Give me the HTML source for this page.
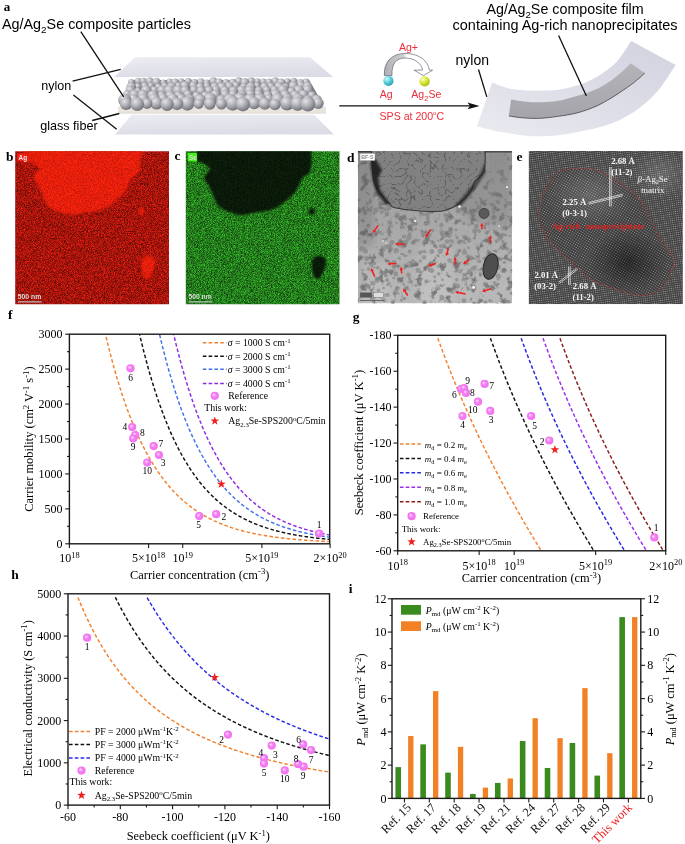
<!DOCTYPE html>
<html><head><meta charset="utf-8"><style>
html,body{margin:0;padding:0;background:#fff;overflow:hidden;}
svg{display:block;will-change:transform;}
</style></head><body>
<svg width="685" height="844" viewBox="0 0 685 844">
<rect width="685" height="844" fill="#fff"/>

<defs>
 <radialGradient id="sph" cx="0.5" cy="0.5" r="0.5" fx="0.36" fy="0.34">
  <stop offset="0" stop-color="#fcecfc"/>
  <stop offset="0.22" stop-color="#f8b4f8"/>
  <stop offset="0.5" stop-color="#f47ef4"/>
  <stop offset="1" stop-color="#f070f0"/>
 </radialGradient>
 <radialGradient id="gball" cx="0.35" cy="0.3" r="0.75">
  <stop offset="0" stop-color="#e4e4e8"/>
  <stop offset="0.5" stop-color="#acacb2"/>
  <stop offset="1" stop-color="#6c6c74"/>
 </radialGradient>
 <radialGradient id="cyb" cx="0.35" cy="0.3" r="0.75">
  <stop offset="0" stop-color="#d8fbff"/>
  <stop offset="0.5" stop-color="#5cd0dc"/>
  <stop offset="1" stop-color="#2a9cb0"/>
 </radialGradient>
 <radialGradient id="ylb" cx="0.35" cy="0.3" r="0.75">
  <stop offset="0" stop-color="#fbffd0"/>
  <stop offset="0.5" stop-color="#d8e830"/>
  <stop offset="1" stop-color="#a8b810"/>
 </radialGradient>
 <linearGradient id="plane" x1="0" y1="0" x2="0.3" y2="1">
  <stop offset="0" stop-color="#ececf2"/>
  <stop offset="1" stop-color="#dcdce6"/>
 </linearGradient>
 <linearGradient id="band" x1="0" y1="0" x2="1" y2="0">
  <stop offset="0" stop-color="#dedee6"/>
  <stop offset="1" stop-color="#d2d2e2"/>
 </linearGradient>
 <filter id="noiseR" x="0" y="0" width="1" height="1">
  <feTurbulence type="fractalNoise" baseFrequency="0.9" numOctaves="1" seed="4" result="t"/>
  <feColorMatrix in="t" type="matrix" values="0 0 0 0 0  0 0 0 0 0  0 0 0 0 0  0 0 0 -2.2 1.25" result="a"/>
  <feComposite in="a" in2="SourceGraphic" operator="in"/>
 </filter>
 <filter id="noiseG" x="0" y="0" width="1" height="1">
  <feTurbulence type="fractalNoise" baseFrequency="0.85" numOctaves="1" seed="9" result="t"/>
  <feColorMatrix in="t" type="matrix" values="0 0 0 0 0.55  0 0 0 0 1  0 0 0 0 0.4  0 0 0 -3 1.45"/>
 </filter>
 <filter id="blur1"><feGaussianBlur stdDeviation="0.8"/></filter>
 <filter id="blur05"><feGaussianBlur stdDeviation="0.5"/></filter>
 <filter id="blur2"><feGaussianBlur stdDeviation="1.6"/></filter>
 <filter id="blur3"><feGaussianBlur stdDeviation="3"/></filter>
 <clipPath id="clipF"><rect x="69.4" y="334" width="260.4" height="209.8"/></clipPath>
 <clipPath id="clipG"><rect x="397.7" y="335.3" width="268" height="215.5"/></clipPath>
 <clipPath id="clipH"><rect x="68" y="596.2" width="261.5" height="208.9"/></clipPath>
 <clipPath id="clipB"><rect x="15.2" y="151.3" width="153.8" height="152.9"/></clipPath>
 <clipPath id="clipC"><rect x="185.8" y="151.3" width="153.7" height="152.9"/></clipPath>
 <clipPath id="clipD"><rect x="357.9" y="151" width="154.2" height="152.4"/></clipPath>
 <clipPath id="clipE"><rect x="528.6" y="151" width="154.3" height="153.2"/></clipPath>
 <path id="starp" d="M0,-4.6 L1.08,-1.49 L4.37,-1.42 L1.75,0.57 L2.7,3.72 L0,1.84 L-2.7,3.72 L-1.75,0.57 L-4.37,-1.42 L-1.08,-1.49 Z"/>
</defs>

<text x="3.8" y="11.3" font-family="Liberation Serif" font-weight="bold" font-size="13">a</text>
<text x="2" y="28.9" font-family="Liberation Sans" font-size="14.2" textLength="189" lengthAdjust="spacingAndGlyphs">Ag/Ag<tspan font-size="9.8" dy="4.2">2</tspan><tspan dy="-4.2">Se composite particles</tspan></text>
<polygon points="135.1,57.2 310,57.2 333,77 114.1,77" fill="url(#plane)"/>
<polygon points="131.5,114.8 314,114.8 334,134.5 115,134.5" fill="url(#plane)"/>
<polygon points="118.2,106.5 326,106.5 326,113.2 118.2,113.2" fill="#e9e5de"/>
<line x1="118.2" y1="113.2" x2="326" y2="113.2" stroke="#d6d0c6" stroke-width="0.6"/>
<polygon points="131,80 309,80 323,104 120,104" fill="#7c7c84"/>
<circle cx="293.8" cy="81.2" r="3.35" fill="url(#gball)"/>
<circle cx="251.2" cy="81.2" r="3.95" fill="url(#gball)"/>
<circle cx="138.1" cy="81.3" r="3.50" fill="url(#gball)"/>
<circle cx="257.4" cy="81.3" r="3.13" fill="url(#gball)"/>
<circle cx="181.3" cy="81.3" r="3.05" fill="url(#gball)"/>
<circle cx="238.7" cy="81.3" r="3.94" fill="url(#gball)"/>
<circle cx="143.4" cy="81.3" r="3.60" fill="url(#gball)"/>
<circle cx="149.7" cy="81.4" r="4.18" fill="url(#gball)"/>
<circle cx="213.3" cy="81.4" r="4.08" fill="url(#gball)"/>
<circle cx="287.4" cy="81.6" r="3.30" fill="url(#gball)"/>
<circle cx="275.3" cy="81.6" r="4.24" fill="url(#gball)"/>
<circle cx="169.6" cy="81.7" r="3.13" fill="url(#gball)"/>
<circle cx="188.3" cy="81.7" r="3.59" fill="url(#gball)"/>
<circle cx="263.3" cy="81.8" r="3.33" fill="url(#gball)"/>
<circle cx="200.8" cy="82.0" r="3.81" fill="url(#gball)"/>
<circle cx="269.0" cy="82.1" r="3.62" fill="url(#gball)"/>
<circle cx="156.4" cy="82.1" r="4.36" fill="url(#gball)"/>
<circle cx="175.1" cy="82.2" r="3.82" fill="url(#gball)"/>
<circle cx="131.3" cy="82.2" r="3.18" fill="url(#gball)"/>
<circle cx="305.9" cy="82.3" r="3.87" fill="url(#gball)"/>
<circle cx="225.9" cy="82.3" r="3.42" fill="url(#gball)"/>
<circle cx="219.0" cy="82.4" r="3.95" fill="url(#gball)"/>
<circle cx="194.6" cy="82.5" r="3.40" fill="url(#gball)"/>
<circle cx="244.8" cy="82.5" r="4.43" fill="url(#gball)"/>
<circle cx="232.7" cy="82.5" r="3.64" fill="url(#gball)"/>
<circle cx="163.3" cy="82.6" r="3.03" fill="url(#gball)"/>
<circle cx="300.2" cy="82.7" r="3.80" fill="url(#gball)"/>
<circle cx="281.2" cy="82.7" r="4.27" fill="url(#gball)"/>
<circle cx="206.7" cy="82.8" r="3.39" fill="url(#gball)"/>
<circle cx="236.0" cy="85.6" r="3.96" fill="url(#gball)"/>
<circle cx="178.4" cy="85.8" r="3.50" fill="url(#gball)"/>
<circle cx="193.3" cy="85.8" r="4.25" fill="url(#gball)"/>
<circle cx="150.8" cy="85.8" r="3.36" fill="url(#gball)"/>
<circle cx="184.9" cy="85.9" r="4.75" fill="url(#gball)"/>
<circle cx="144.6" cy="85.9" r="3.71" fill="url(#gball)"/>
<circle cx="301.0" cy="85.9" r="4.58" fill="url(#gball)"/>
<circle cx="257.0" cy="86.0" r="3.73" fill="url(#gball)"/>
<circle cx="164.7" cy="86.2" r="3.78" fill="url(#gball)"/>
<circle cx="206.9" cy="86.2" r="3.80" fill="url(#gball)"/>
<circle cx="293.3" cy="86.2" r="4.99" fill="url(#gball)"/>
<circle cx="137.8" cy="86.6" r="3.53" fill="url(#gball)"/>
<circle cx="243.7" cy="86.7" r="3.80" fill="url(#gball)"/>
<circle cx="229.0" cy="86.8" r="4.73" fill="url(#gball)"/>
<circle cx="214.6" cy="86.8" r="4.25" fill="url(#gball)"/>
<circle cx="278.9" cy="86.9" r="4.89" fill="url(#gball)"/>
<circle cx="285.6" cy="86.9" r="3.66" fill="url(#gball)"/>
<circle cx="131.2" cy="86.9" r="4.83" fill="url(#gball)"/>
<circle cx="270.8" cy="86.9" r="4.46" fill="url(#gball)"/>
<circle cx="307.6" cy="86.9" r="4.88" fill="url(#gball)"/>
<circle cx="158.3" cy="87.0" r="3.40" fill="url(#gball)"/>
<circle cx="264.4" cy="87.0" r="4.41" fill="url(#gball)"/>
<circle cx="200.1" cy="87.2" r="4.25" fill="url(#gball)"/>
<circle cx="221.9" cy="87.2" r="4.72" fill="url(#gball)"/>
<circle cx="250.8" cy="87.2" r="4.93" fill="url(#gball)"/>
<circle cx="171.4" cy="87.2" r="4.79" fill="url(#gball)"/>
<circle cx="193.9" cy="90.0" r="4.10" fill="url(#gball)"/>
<circle cx="274.3" cy="90.1" r="4.21" fill="url(#gball)"/>
<circle cx="266.8" cy="90.2" r="4.02" fill="url(#gball)"/>
<circle cx="282.9" cy="90.2" r="5.45" fill="url(#gball)"/>
<circle cx="307.4" cy="90.3" r="5.32" fill="url(#gball)"/>
<circle cx="215.8" cy="90.4" r="4.81" fill="url(#gball)"/>
<circle cx="154.2" cy="90.4" r="4.16" fill="url(#gball)"/>
<circle cx="161.9" cy="90.4" r="4.86" fill="url(#gball)"/>
<circle cx="130.4" cy="90.6" r="5.00" fill="url(#gball)"/>
<circle cx="169.4" cy="90.6" r="5.47" fill="url(#gball)"/>
<circle cx="298.6" cy="90.6" r="5.55" fill="url(#gball)"/>
<circle cx="178.0" cy="90.7" r="5.46" fill="url(#gball)"/>
<circle cx="146.2" cy="90.7" r="5.52" fill="url(#gball)"/>
<circle cx="241.5" cy="90.7" r="5.06" fill="url(#gball)"/>
<circle cx="185.1" cy="90.8" r="4.76" fill="url(#gball)"/>
<circle cx="209.0" cy="90.9" r="4.73" fill="url(#gball)"/>
<circle cx="258.7" cy="90.9" r="4.25" fill="url(#gball)"/>
<circle cx="224.8" cy="90.9" r="4.71" fill="url(#gball)"/>
<circle cx="233.4" cy="91.0" r="4.59" fill="url(#gball)"/>
<circle cx="249.8" cy="91.1" r="5.53" fill="url(#gball)"/>
<circle cx="201.1" cy="91.2" r="4.65" fill="url(#gball)"/>
<circle cx="291.5" cy="91.4" r="4.03" fill="url(#gball)"/>
<circle cx="137.9" cy="91.6" r="3.79" fill="url(#gball)"/>
<circle cx="258.5" cy="94.4" r="4.68" fill="url(#gball)"/>
<circle cx="187.8" cy="94.5" r="4.35" fill="url(#gball)"/>
<circle cx="225.2" cy="94.6" r="4.72" fill="url(#gball)"/>
<circle cx="233.1" cy="94.7" r="4.39" fill="url(#gball)"/>
<circle cx="250.2" cy="94.7" r="5.20" fill="url(#gball)"/>
<circle cx="242.1" cy="94.9" r="4.81" fill="url(#gball)"/>
<circle cx="127.2" cy="94.9" r="4.57" fill="url(#gball)"/>
<circle cx="215.5" cy="94.9" r="5.10" fill="url(#gball)"/>
<circle cx="303.5" cy="95.0" r="5.00" fill="url(#gball)"/>
<circle cx="275.4" cy="95.1" r="5.86" fill="url(#gball)"/>
<circle cx="134.4" cy="95.1" r="5.31" fill="url(#gball)"/>
<circle cx="267.7" cy="95.2" r="4.55" fill="url(#gball)"/>
<circle cx="285.1" cy="95.2" r="4.98" fill="url(#gball)"/>
<circle cx="143.0" cy="95.2" r="5.46" fill="url(#gball)"/>
<circle cx="311.9" cy="95.6" r="4.31" fill="url(#gball)"/>
<circle cx="161.5" cy="95.6" r="4.24" fill="url(#gball)"/>
<circle cx="295.0" cy="95.7" r="4.87" fill="url(#gball)"/>
<circle cx="205.4" cy="95.8" r="4.33" fill="url(#gball)"/>
<circle cx="170.2" cy="95.9" r="5.04" fill="url(#gball)"/>
<circle cx="178.4" cy="95.9" r="4.47" fill="url(#gball)"/>
<circle cx="196.5" cy="95.9" r="4.31" fill="url(#gball)"/>
<circle cx="152.9" cy="96.0" r="5.80" fill="url(#gball)"/>
<circle cx="162.8" cy="98.8" r="5.37" fill="url(#gball)"/>
<circle cx="181.1" cy="98.9" r="5.16" fill="url(#gball)"/>
<circle cx="268.7" cy="99.0" r="4.63" fill="url(#gball)"/>
<circle cx="240.0" cy="99.0" r="6.41" fill="url(#gball)"/>
<circle cx="172.6" cy="99.1" r="5.71" fill="url(#gball)"/>
<circle cx="154.0" cy="99.2" r="5.81" fill="url(#gball)"/>
<circle cx="143.2" cy="99.2" r="5.58" fill="url(#gball)"/>
<circle cx="133.7" cy="99.3" r="5.11" fill="url(#gball)"/>
<circle cx="189.7" cy="99.3" r="4.61" fill="url(#gball)"/>
<circle cx="210.0" cy="99.4" r="6.56" fill="url(#gball)"/>
<circle cx="287.2" cy="99.6" r="6.11" fill="url(#gball)"/>
<circle cx="298.1" cy="99.6" r="6.27" fill="url(#gball)"/>
<circle cx="277.8" cy="99.7" r="6.47" fill="url(#gball)"/>
<circle cx="259.8" cy="99.9" r="6.60" fill="url(#gball)"/>
<circle cx="221.1" cy="100.0" r="4.90" fill="url(#gball)"/>
<circle cx="316.7" cy="100.0" r="5.17" fill="url(#gball)"/>
<circle cx="307.9" cy="100.0" r="4.71" fill="url(#gball)"/>
<circle cx="200.1" cy="100.0" r="5.77" fill="url(#gball)"/>
<circle cx="250.0" cy="100.1" r="6.46" fill="url(#gball)"/>
<circle cx="124.7" cy="100.2" r="6.48" fill="url(#gball)"/>
<circle cx="229.8" cy="100.2" r="6.46" fill="url(#gball)"/>
<circle cx="156.5" cy="103.2" r="6.37" fill="url(#gball)"/>
<circle cx="254.1" cy="103.2" r="6.17" fill="url(#gball)"/>
<circle cx="318.1" cy="103.3" r="5.64" fill="url(#gball)"/>
<circle cx="287.0" cy="103.4" r="7.04" fill="url(#gball)"/>
<circle cx="232.7" cy="103.4" r="7.32" fill="url(#gball)"/>
<circle cx="187.3" cy="103.5" r="7.18" fill="url(#gball)"/>
<circle cx="147.0" cy="103.6" r="5.33" fill="url(#gball)"/>
<circle cx="209.8" cy="103.6" r="6.07" fill="url(#gball)"/>
<circle cx="297.6" cy="103.7" r="7.20" fill="url(#gball)"/>
<circle cx="264.8" cy="103.7" r="6.08" fill="url(#gball)"/>
<circle cx="126.1" cy="103.8" r="6.18" fill="url(#gball)"/>
<circle cx="198.7" cy="103.9" r="5.00" fill="url(#gball)"/>
<circle cx="177.0" cy="103.9" r="6.24" fill="url(#gball)"/>
<circle cx="221.4" cy="104.1" r="5.48" fill="url(#gball)"/>
<circle cx="307.9" cy="104.1" r="7.44" fill="url(#gball)"/>
<circle cx="137.3" cy="104.2" r="6.86" fill="url(#gball)"/>
<circle cx="167.1" cy="104.3" r="6.63" fill="url(#gball)"/>
<circle cx="242.8" cy="104.3" r="7.16" fill="url(#gball)"/>
<circle cx="274.9" cy="104.5" r="5.74" fill="url(#gball)"/>
<g stroke="#111" stroke-width="1.3" fill="none">
<line x1="80.8" y1="31.7" x2="123.7" y2="96.8"/>
<line x1="72.6" y1="81.1" x2="120.7" y2="69.3"/>
<line x1="73.4" y1="95.1" x2="116.7" y2="129.2"/>
<line x1="92.2" y1="120.5" x2="119.3" y2="113.5"/>
</g>
<text x="41.2" y="90.1" font-family="Liberation Sans" font-size="12.2" textLength="30" lengthAdjust="spacingAndGlyphs">nylon</text>
<text x="40.2" y="129.8" font-family="Liberation Sans" font-size="12.4" textLength="57.4" lengthAdjust="spacingAndGlyphs">glass fiber</text>
<line x1="339.3" y1="105.9" x2="470" y2="105.9" stroke="#111" stroke-width="1.2"/>
<path d="M479.5,105.9 L467.5,102.6 L470,105.9 L467.5,109.2 Z" fill="#111"/>
<text x="379.5" y="119.5" font-family="Liberation Sans" font-size="10.6" fill="#ec2d3a">SPS at 200<tspan font-size="6" dy="-4.4">o</tspan><tspan dy="4.4">C</tspan></text>
<text x="379.8" y="97.7" font-family="Liberation Sans" font-size="10.6" fill="#ec2d3a">Ag</text>
<text x="411.3" y="97.7" font-family="Liberation Sans" font-size="10.6" fill="#ec2d3a">Ag<tspan font-size="7.4" dy="3.6">2</tspan><tspan dy="-3.6">Se</tspan></text>
<text x="398.9" y="50.6" font-family="Liberation Sans" font-size="10.6" fill="#ec2d3a">Ag+</text>
<linearGradient id="carr" gradientUnits="userSpaceOnUse" x1="384" y1="0" x2="430" y2="0"><stop offset="0" stop-color="#b0b0b4"/><stop offset="0.42" stop-color="#cfcfd3"/><stop offset="0.5" stop-color="#ffffff"/></linearGradient>
<path d="M384.4,75.5 C383.5,62 392,53.4 405,53.4 C418,53.4 428,60 429.3,70 L432.6,70.2 L423.4,75.6 L414.2,70.2 L422.6,70 C421.5,63 414,58 405,58 C396,58 391.5,64 392,75.5 Z" fill="url(#carr)" stroke="#3c4252" stroke-width="0.55"/>
<circle cx="388.4" cy="80.9" r="5.1" fill="url(#cyb)"/>
<circle cx="424.6" cy="81.4" r="5.1" fill="url(#ylb)"/>
<linearGradient id="band2" x1="1" y1="0" x2="0.2" y2="1"><stop offset="0" stop-color="#d2d2e0"/><stop offset="0.6" stop-color="#dedee8"/><stop offset="1" stop-color="#e8e8ef"/></linearGradient>
<path d="M492.2,82.4 C495.4,83.5 504.6,87.7 511.7,89.1 C518.8,90.5 527.2,90.7 535.0,90.8 C542.8,90.9 551.7,90.5 558.4,89.7 C565.1,88.9 570.3,87.3 575.0,86.0 C579.7,84.7 582.8,83.6 586.7,81.9 C590.6,80.2 594.5,78.3 598.4,76.0 C602.3,73.7 606.5,70.7 610.0,67.8 C613.5,64.9 615.9,63.0 619.4,58.5 C622.9,54.0 629.2,43.8 631.2,40.9 L675.7,65 C671.9,70.3 662.3,87.2 652.6,96.6 C642.9,105.9 631.4,114.9 617.6,121.1 C603.8,127.3 583.8,131.1 570.0,133.6 C556.2,136.1 546.7,136.5 535.0,136.2 C523.3,135.9 509.7,133.5 500.0,131.8 C490.3,130.1 480.8,127.1 476.9,126.2 Z" fill="url(#band2)"/>
<linearGradient id="strip" x1="0" y1="0" x2="0" y2="1"><stop offset="0" stop-color="#b4b4b8"/><stop offset="1" stop-color="#a4a4aa"/></linearGradient>
<path d="M511.1,99.6 C513.1,99.9 518.4,101.0 523.4,101.4 C528.4,101.9 535.1,102.4 540.9,102.3 C546.7,102.2 552.7,101.8 558.4,100.8 C564.1,99.8 570.3,97.8 575.0,96.5 C579.7,95.2 582.8,94.4 586.7,93.0 C590.6,91.6 594.5,90.2 598.4,88.3 C602.3,86.3 606.1,84.0 610.0,81.3 C613.9,78.6 618.2,74.9 621.7,71.9 C625.2,68.9 629.3,64.7 630.8,63.2 L644.8,73.1 C642.9,74.8 637.2,80.0 633.4,83.0 C629.5,86.0 625.6,88.6 621.7,91.2 C617.8,93.8 613.9,96.5 610.0,98.8 C606.1,101.1 602.3,103.3 598.4,105.2 C594.5,107.1 590.6,108.5 586.7,109.9 C582.8,111.3 579.7,112.3 575.0,113.4 C570.3,114.5 564.1,115.5 558.4,116.3 C552.7,117.1 546.7,118.0 540.9,118.3 C535.1,118.6 528.8,118.3 523.4,117.9 C518.0,117.5 511.2,116.3 508.8,116.0 Z" fill="url(#strip)"/>
<path d="M644.8,73.1 C642.9,74.8 637.2,80.0 633.4,83.0 C629.5,86.0 625.6,88.6 621.7,91.2 C617.8,93.8 613.9,96.5 610.0,98.8 C606.1,101.1 602.3,103.3 598.4,105.2 C594.5,107.1 590.6,108.5 586.7,109.9 C582.8,111.3 579.7,112.3 575.0,113.4 C570.3,114.5 564.1,115.5 558.4,116.3 C552.7,117.1 546.7,118.0 540.9,118.3 C535.1,118.6 528.8,118.3 523.4,117.9 C518.0,117.5 511.2,116.3 508.8,116.0" fill="none" stroke="#333" stroke-width="0.7"/>
<g stroke="#111" stroke-width="1.3"><line x1="558.6" y1="35.5" x2="586.4" y2="95.9"/><line x1="478.5" y1="69.5" x2="486.8" y2="96.9"/></g>
<text x="455.5" y="64.8" font-family="Liberation Sans" font-size="14">nylon</text>
<text x="486.5" y="13.8" font-family="Liberation Sans" font-size="14.4" textLength="157.2" lengthAdjust="spacingAndGlyphs">Ag/Ag<tspan font-size="9.8" dy="4.2">2</tspan><tspan dy="-4.2">Se composite film</tspan></text>
<text x="452.6" y="30" font-family="Liberation Sans" font-size="14.4" textLength="225" lengthAdjust="spacingAndGlyphs">containing Ag-rich nanoprecipitates</text>
<filter id="nzR" color-interpolation-filters="sRGB" x="0" y="0" width="1" height="1"><feTurbulence type="fractalNoise" baseFrequency="1.3" numOctaves="1" seed="2"/><feColorMatrix type="matrix" values="1.35 0 0 0 -0.03  0.16 0 0 0 0  0.09 0 0 0 0  0 0 0 0 1"/></filter>
<filter id="nzR2" color-interpolation-filters="sRGB" x="0" y="0" width="1" height="1"><feTurbulence type="fractalNoise" baseFrequency="1.3" numOctaves="1" seed="5"/><feColorMatrix type="matrix" values="0.7 0 0 0 0.55  0.14 0 0 0 0.05  0.05 0 0 0 0.02  0 0 0 0 1"/></filter>
<filter id="nzG" color-interpolation-filters="sRGB" x="0" y="0" width="1" height="1"><feTurbulence type="fractalNoise" baseFrequency="1.3" numOctaves="1" seed="7"/><feColorMatrix type="matrix" values="0 0.28 0 0 0  0 1.15 0 0 -0.09  0 0.22 0 0 0  0 0 0 0 1"/></filter>
<filter id="nzK" color-interpolation-filters="sRGB" x="0" y="0" width="1" height="1"><feTurbulence type="fractalNoise" baseFrequency="1.3" numOctaves="1" seed="3"/><feColorMatrix type="matrix" values="0 0.06 0 0 0.01  0 0.2 0 0 0.0  0 0.05 0 0 0.01  0 0 0 0 1"/></filter>
<mask id="mBlobB"><path d="M26.0,151.0 C26.0,153.0 24.8,158.4 26.0,160.5 C27.2,162.6 30.9,161.9 33.1,163.4 C35.3,164.8 39.3,166.8 39.4,169.2 C39.5,171.5 33.9,174.7 33.6,177.3 C33.4,179.9 36.4,182.1 37.8,184.9 C39.3,187.8 40.9,191.3 42.3,194.4 C43.7,197.5 44.2,201.0 46.0,203.6 C47.7,206.1 49.9,208.0 52.8,209.6 C55.7,211.3 60.0,212.7 63.3,213.6 C66.6,214.4 69.2,215.1 72.8,214.9 C76.3,214.7 81.0,213.1 84.6,212.5 C88.2,211.9 91.2,211.9 94.6,211.2 C98.0,210.5 101.4,210.0 104.8,208.3 C108.3,206.6 111.7,203.8 115.1,201.0 C118.5,198.1 122.6,194.7 125.3,191.0 C128.0,187.2 129.0,182.0 131.4,178.6 C133.8,175.2 138.2,175.1 139.8,170.5 C141.4,165.9 140.7,154.6 140.8,151.0 C141.0,147.5 160.0,149.3 140.8,149.0 C121.7,148.7 45.1,148.7 26.0,149.0 C6.9,149.3 26.0,149.1 26.0,151.0 Z" fill="#fff" filter="url(#blur1)"/><path d="M148.0,255.8 C149.8,255.6 152.3,256.4 153.5,257.5 C154.7,258.6 155.3,260.4 155.3,262.5 C155.3,264.6 154.4,267.6 153.5,270.0 C152.6,272.4 151.3,275.5 150.0,277.0 C148.7,278.5 146.8,279.5 145.5,278.8 C144.2,278.1 142.9,275.3 142.2,273.0 C141.5,270.7 141.1,267.4 141.2,265.0 C141.2,262.6 141.4,260.0 142.5,258.5 C143.6,257.0 146.2,256.0 148.0,255.8 Z" fill="#fff" filter="url(#blur1)"/><circle cx="141.2" cy="211.5" r="3" fill="#fff" filter="url(#blur1)"/></mask>
<mask id="mBlobC"><path d="M196.6,151.0 C196.6,153.0 195.4,158.4 196.6,160.5 C197.8,162.6 201.5,161.9 203.7,163.4 C205.9,164.8 209.9,166.8 210.0,169.2 C210.1,171.5 204.5,174.7 204.2,177.3 C204.0,179.9 207.0,182.1 208.4,184.9 C209.9,187.8 211.5,191.3 212.9,194.4 C214.3,197.5 214.8,201.0 216.6,203.6 C218.3,206.1 220.5,208.0 223.4,209.6 C226.3,211.3 230.6,212.7 233.9,213.6 C237.2,214.4 239.8,215.1 243.4,214.9 C246.9,214.7 251.6,213.1 255.2,212.5 C258.8,211.9 261.8,211.9 265.2,211.2 C268.6,210.5 272.0,210.0 275.4,208.3 C278.9,206.6 282.3,203.8 285.7,201.0 C289.1,198.1 293.2,194.7 295.9,191.0 C298.6,187.2 299.6,182.0 302.0,178.6 C304.4,175.2 308.8,175.1 310.4,170.5 C312.0,165.9 311.3,154.6 311.4,151.0 C311.6,147.5 330.6,149.3 311.4,149.0 C292.3,148.7 215.7,148.7 196.6,149.0 C177.5,149.3 196.6,149.1 196.6,151.0 Z" fill="#fff" filter="url(#blur1)"/><path d="M318.6,255.8 C320.4,255.6 322.9,256.4 324.1,257.5 C325.3,258.6 325.9,260.4 325.9,262.5 C325.9,264.6 325.0,267.6 324.1,270.0 C323.2,272.4 321.9,275.5 320.6,277.0 C319.3,278.5 317.4,279.5 316.1,278.8 C314.8,278.1 313.5,275.3 312.8,273.0 C312.1,270.7 311.7,267.4 311.8,265.0 C311.8,262.6 312.0,260.0 313.1,258.5 C314.2,257.0 316.8,256.0 318.6,255.8 Z" fill="#fff" filter="url(#blur1)"/><circle cx="311.8" cy="211.5" r="3" fill="#fff" filter="url(#blur1)"/></mask>
<text x="5.9" y="160.5" font-family="Liberation Serif" font-weight="bold" font-size="13.5">b</text>
<g clip-path="url(#clipB)">
<rect x="15.2" y="151.3" width="153.8" height="152.9" filter="url(#nzR)"/>
<rect x="15.2" y="151.3" width="153.8" height="152.9" filter="url(#nzR2)" mask="url(#mBlobB)"/>
</g>
<rect x="17.3" y="153.4" width="9.6" height="8" fill="#f41e12"/>
<text x="18.6" y="159.8" font-family="Liberation Sans" font-weight="bold" font-size="6.4" fill="#e6e6e6">Ag</text>
<text x="17.8" y="298.6" font-family="Liberation Sans" font-weight="bold" font-size="7" fill="#dcdcdc" textLength="23.4" lengthAdjust="spacingAndGlyphs">500 nm</text>
<rect x="18" y="301.2" width="23.8" height="1.3" fill="#b4b4b4"/>
<text x="174.6" y="159.9" font-family="Liberation Serif" font-weight="bold" font-size="13.5">c</text>
<g clip-path="url(#clipC)">
<rect x="185.8" y="151.3" width="153.7" height="152.9" filter="url(#nzG)"/>
<rect x="185.8" y="151.3" width="153.7" height="152.9" filter="url(#nzK)" mask="url(#mBlobC)"/>
</g>
<rect x="188" y="153" width="9" height="8.5" fill="#44f018"/>
<text x="189" y="159.6" font-family="Liberation Sans" font-weight="bold" font-size="6.4" fill="#d8d8d8">Se</text>
<text x="188.4" y="298.6" font-family="Liberation Sans" font-weight="bold" font-size="7" fill="#dcdcdc" textLength="23.4" lengthAdjust="spacingAndGlyphs">500 nm</text>
<rect x="188.6" y="301.2" width="23.8" height="1.3" fill="#b4b4b4"/>
<text x="347" y="161.8" font-family="Liberation Serif" font-weight="bold" font-size="13.5">d</text>
<linearGradient id="dbg" x1="0" y1="0" x2="0.15" y2="1"><stop offset="0" stop-color="#939393"/><stop offset="0.45" stop-color="#a2a2a2"/><stop offset="1" stop-color="#b6b6b6"/></linearGradient>
<filter id="mott" color-interpolation-filters="sRGB" x="0" y="0" width="1" height="1"><feTurbulence type="fractalNoise" baseFrequency="0.13" numOctaves="3" seed="5"/><feColorMatrix type="matrix" values="0 0 0 0 0.45  0 0 0 0 0.45  0 0 0 0 0.45  0 0 0 -5 2.3"/><feGaussianBlur stdDeviation="0.7"/></filter>
<filter id="mott2" color-interpolation-filters="sRGB" x="0" y="0" width="1" height="1"><feTurbulence type="turbulence" baseFrequency="0.13" numOctaves="2" seed="12"/><feColorMatrix type="matrix" values="0 0 0 0 0.3  0 0 0 0 0.3  0 0 0 0 0.3  0 0 0 -8 1.2"/><feGaussianBlur stdDeviation="0.25"/></filter>
<filter id="grainy" color-interpolation-filters="sRGB" x="0" y="0" width="1" height="1"><feTurbulence type="fractalNoise" baseFrequency="1.2" numOctaves="1" seed="21"/><feColorMatrix type="matrix" values="0 0 0 0 1  0 0 0 0 1  0 0 0 0 1  0 0 0 1.0 -0.35"/></filter>
<linearGradient id="streak" x1="0" y1="0" x2="1" y2="0"><stop offset="0" stop-color="#fff" stop-opacity="0"/><stop offset="0.5" stop-color="#fff" stop-opacity="0.22"/><stop offset="1" stop-color="#fff" stop-opacity="0"/></linearGradient>
<clipPath id="clipGrain"><path d="M371.5,151.0 C371.6,153.5 371.5,157.7 372.0,163.0 C372.5,168.3 372.8,177.8 374.3,183.0 C375.8,188.2 378.6,190.7 381.0,194.0 C383.4,197.3 386.8,200.7 389.0,203.0 C391.2,205.3 390.5,206.4 394.0,207.6 C397.5,208.8 403.2,209.3 410.0,210.0 C416.8,210.7 428.9,211.5 435.0,211.5 C441.1,211.5 442.8,211.2 446.7,209.9 C450.6,208.7 454.5,206.9 458.4,204.0 C462.3,201.1 467.3,196.1 470.0,192.4 C472.7,188.7 472.4,185.4 474.7,181.9 C477.0,178.4 482.2,176.6 484.0,171.4 C485.8,166.2 485.0,154.9 485.2,151.0 C485.4,147.1 504.1,148.5 485.2,148.0 C466.2,147.5 390.4,147.5 371.5,148.0 C352.6,148.5 371.4,148.5 371.5,151.0 Z"/></clipPath>
<g clip-path="url(#clipD)">
<rect x="357.9" y="151" width="154.2" height="152.4" fill="url(#dbg)"/>
<rect x="418" y="245" width="34" height="70" fill="#fff" opacity="0.12" filter="url(#blur3)"/>
<rect x="364" y="262" width="26" height="50" fill="#fff" opacity="0.1" filter="url(#blur3)"/>
<rect x="357.9" y="151" width="154.2" height="152.4" filter="url(#mott)"/>
<g fill="#747474" opacity="0.55" filter="url(#blur05)">
<circle cx="359.9" cy="211.6" r="1.7"/>
<circle cx="463.3" cy="214.3" r="1.4"/>
<circle cx="393.7" cy="278.0" r="1.4"/>
<circle cx="472.1" cy="268.2" r="1.4"/>
<circle cx="440.5" cy="246.1" r="1.8"/>
<circle cx="511.4" cy="209.6" r="1.2"/>
<circle cx="502.7" cy="241.5" r="1.5"/>
<circle cx="408.9" cy="237.6" r="2.5"/>
<circle cx="390.4" cy="222.3" r="2.0"/>
<circle cx="442.3" cy="298.2" r="2.4"/>
<circle cx="412.7" cy="221.0" r="2.4"/>
<circle cx="510.3" cy="203.1" r="2.2"/>
<circle cx="491.7" cy="267.1" r="1.5"/>
<circle cx="480.7" cy="275.2" r="1.5"/>
<circle cx="456.7" cy="222.6" r="1.3"/>
<circle cx="409.7" cy="234.4" r="1.8"/>
<circle cx="457.6" cy="286.1" r="2.5"/>
<circle cx="508.4" cy="302.3" r="2.3"/>
<circle cx="405.2" cy="218.2" r="2.1"/>
<circle cx="442.1" cy="269.5" r="1.3"/>
<circle cx="387.7" cy="294.9" r="2.0"/>
<circle cx="465.1" cy="209.9" r="1.8"/>
<circle cx="498.2" cy="266.9" r="2.6"/>
<circle cx="388.3" cy="246.8" r="2.3"/>
<circle cx="426.5" cy="281.3" r="2.0"/>
<circle cx="376.2" cy="210.2" r="2.6"/>
<circle cx="376.4" cy="220.0" r="1.7"/>
<circle cx="467.9" cy="288.0" r="1.9"/>
<circle cx="434.7" cy="281.2" r="1.6"/>
<circle cx="415.3" cy="263.1" r="2.1"/>
<circle cx="363.9" cy="211.5" r="1.4"/>
<circle cx="469.7" cy="271.4" r="2.6"/>
<circle cx="476.2" cy="226.2" r="2.3"/>
<circle cx="509.7" cy="235.9" r="1.2"/>
<circle cx="415.8" cy="229.1" r="1.4"/>
<circle cx="364.9" cy="212.9" r="2.4"/>
<circle cx="365.7" cy="263.2" r="1.5"/>
<circle cx="387.8" cy="284.5" r="1.6"/>
<circle cx="386.3" cy="246.8" r="2.2"/>
<circle cx="438.8" cy="288.6" r="1.8"/>
<circle cx="438.7" cy="273.9" r="1.8"/>
<circle cx="468.4" cy="248.1" r="1.4"/>
<circle cx="377.0" cy="280.7" r="2.2"/>
<circle cx="503.2" cy="271.1" r="2.0"/>
<circle cx="383.6" cy="287.9" r="1.4"/>
<circle cx="423.4" cy="214.5" r="1.7"/>
<circle cx="405.3" cy="243.8" r="2.2"/>
<circle cx="441.4" cy="225.0" r="2.3"/>
<circle cx="471.2" cy="285.2" r="1.2"/>
<circle cx="452.7" cy="292.2" r="1.6"/>
<circle cx="389.1" cy="283.8" r="1.7"/>
<circle cx="419.8" cy="284.2" r="1.7"/>
<circle cx="388.6" cy="222.1" r="1.7"/>
<circle cx="465.5" cy="237.9" r="2.3"/>
<circle cx="368.2" cy="225.7" r="2.1"/>
<circle cx="431.8" cy="251.5" r="2.5"/>
<circle cx="400.7" cy="218.7" r="1.2"/>
<circle cx="432.3" cy="230.6" r="1.9"/>
<circle cx="358.9" cy="200.0" r="1.7"/>
<circle cx="474.7" cy="230.9" r="2.5"/>
<circle cx="447.2" cy="241.6" r="2.3"/>
<circle cx="393.9" cy="262.3" r="2.4"/>
<circle cx="441.3" cy="232.9" r="1.3"/>
<circle cx="446.4" cy="219.3" r="1.7"/>
<circle cx="441.5" cy="296.9" r="2.1"/>
<circle cx="438.0" cy="288.4" r="1.6"/>
<circle cx="417.7" cy="269.8" r="2.0"/>
<circle cx="392.1" cy="242.3" r="2.4"/>
<circle cx="395.3" cy="272.7" r="1.3"/>
<circle cx="505.0" cy="270.5" r="1.7"/>
<circle cx="509.4" cy="282.0" r="1.3"/>
<circle cx="396.2" cy="250.6" r="2.6"/>
<circle cx="379.7" cy="204.9" r="1.6"/>
<circle cx="364.9" cy="242.1" r="2.0"/>
<circle cx="425.8" cy="214.6" r="1.2"/>
<circle cx="481.6" cy="245.3" r="1.9"/>
<circle cx="431.6" cy="270.6" r="2.5"/>
<circle cx="485.4" cy="274.9" r="1.7"/>
<circle cx="384.0" cy="209.2" r="2.4"/>
<circle cx="366.8" cy="258.6" r="2.5"/>
<circle cx="407.6" cy="240.1" r="1.8"/>
<circle cx="503.4" cy="270.5" r="2.4"/>
<circle cx="364.0" cy="275.2" r="1.8"/>
<circle cx="419.8" cy="284.1" r="2.2"/>
<circle cx="498.2" cy="276.1" r="2.5"/>
<circle cx="423.9" cy="257.3" r="2.3"/>
<circle cx="427.9" cy="214.1" r="2.0"/>
<circle cx="492.2" cy="289.7" r="1.4"/>
<circle cx="416.7" cy="223.5" r="1.7"/>
<circle cx="505.8" cy="243.4" r="1.6"/>
<circle cx="400.0" cy="245.4" r="2.1"/>
<circle cx="410.8" cy="219.2" r="1.5"/>
<circle cx="398.0" cy="293.3" r="1.4"/>
<circle cx="474.1" cy="211.1" r="2.3"/>
<circle cx="399.0" cy="280.3" r="1.8"/>
<circle cx="370.0" cy="209.7" r="2.3"/>
<circle cx="441.5" cy="250.1" r="1.7"/>
<circle cx="464.5" cy="249.7" r="1.3"/>
<circle cx="450.5" cy="232.3" r="2.4"/>
<circle cx="442.5" cy="279.7" r="1.4"/>
<circle cx="466.9" cy="262.9" r="2.4"/>
<circle cx="494.2" cy="256.8" r="2.0"/>
<circle cx="476.1" cy="227.2" r="2.0"/>
<circle cx="479.2" cy="261.2" r="2.0"/>
<circle cx="489.8" cy="300.5" r="1.6"/>
<circle cx="369.5" cy="263.2" r="1.4"/>
<circle cx="507.3" cy="248.9" r="1.9"/>
<circle cx="483.9" cy="289.6" r="1.4"/>
<circle cx="427.8" cy="218.6" r="1.8"/>
<circle cx="378.5" cy="290.3" r="1.7"/>
<circle cx="417.9" cy="292.4" r="2.4"/>
<circle cx="409.7" cy="251.5" r="2.1"/>
<circle cx="386.9" cy="214.0" r="2.4"/>
<circle cx="383.0" cy="272.9" r="2.2"/>
<circle cx="449.1" cy="235.6" r="2.4"/>
<circle cx="479.1" cy="207.3" r="2.5"/>
<circle cx="456.0" cy="229.8" r="1.4"/>
<circle cx="373.1" cy="283.6" r="2.4"/>
<circle cx="411.6" cy="218.5" r="1.3"/>
<circle cx="421.8" cy="230.7" r="1.3"/>
<circle cx="403.8" cy="284.6" r="1.3"/>
<circle cx="420.2" cy="253.0" r="1.4"/>
<circle cx="363.6" cy="207.6" r="1.4"/>
<circle cx="508.1" cy="288.8" r="2.2"/>
<circle cx="496.5" cy="233.5" r="1.5"/>
<circle cx="492.0" cy="262.4" r="2.5"/>
<circle cx="413.3" cy="242.5" r="2.2"/>
<circle cx="493.9" cy="217.1" r="1.6"/>
<circle cx="360.1" cy="257.6" r="2.5"/>
<circle cx="445.4" cy="215.3" r="2.2"/>
<circle cx="458.1" cy="210.8" r="2.5"/>
<circle cx="459.6" cy="250.5" r="1.7"/>
<circle cx="382.7" cy="248.2" r="1.7"/>
<circle cx="393.9" cy="266.6" r="2.1"/>
<circle cx="505.0" cy="299.8" r="1.9"/>
<circle cx="468.3" cy="238.6" r="1.8"/>
<circle cx="445.3" cy="301.1" r="1.3"/>
<circle cx="429.3" cy="234.7" r="2.3"/>
<circle cx="504.4" cy="248.6" r="1.3"/>
<circle cx="449.5" cy="260.5" r="2.2"/>
<circle cx="477.6" cy="247.7" r="2.0"/>
<circle cx="476.2" cy="202.8" r="1.5"/>
<circle cx="463.9" cy="300.7" r="2.5"/>
<circle cx="401.4" cy="300.1" r="1.6"/>
<circle cx="427.7" cy="216.4" r="2.0"/>
<circle cx="418.3" cy="270.6" r="2.5"/>
<circle cx="377.7" cy="267.7" r="2.0"/>
<circle cx="400.2" cy="203.6" r="2.5"/>
<circle cx="465.1" cy="264.4" r="1.3"/>
<circle cx="496.6" cy="241.1" r="1.9"/>
<circle cx="443.7" cy="245.9" r="2.5"/>
<circle cx="430.0" cy="269.8" r="2.3"/>
<circle cx="501.7" cy="217.5" r="1.7"/>
<circle cx="504.3" cy="262.4" r="1.7"/>
<circle cx="493.7" cy="212.2" r="1.6"/>
<circle cx="368.6" cy="269.1" r="1.9"/>
<circle cx="404.9" cy="245.3" r="1.6"/>
<circle cx="467.2" cy="278.2" r="1.7"/>
<circle cx="491.8" cy="204.6" r="2.0"/>
<circle cx="381.6" cy="212.1" r="2.0"/>
<circle cx="371.4" cy="207.6" r="1.4"/>
<circle cx="416.0" cy="285.5" r="1.6"/>
<circle cx="376.8" cy="279.1" r="2.3"/>
<circle cx="511.4" cy="205.1" r="1.4"/>
<circle cx="424.8" cy="302.1" r="2.0"/>
<circle cx="494.1" cy="223.1" r="1.9"/>
<circle cx="463.8" cy="223.3" r="1.9"/>
<circle cx="485.0" cy="284.0" r="2.2"/>
<circle cx="485.6" cy="302.6" r="2.0"/>
<circle cx="396.4" cy="222.9" r="1.3"/>
<circle cx="499.5" cy="258.9" r="2.0"/>
<circle cx="492.4" cy="271.2" r="1.7"/>
<circle cx="448.2" cy="208.5" r="1.6"/>
<circle cx="410.9" cy="281.8" r="2.1"/>
<circle cx="451.0" cy="240.7" r="1.7"/>
<circle cx="417.2" cy="205.2" r="1.7"/>
<circle cx="498.0" cy="284.0" r="1.5"/>
<circle cx="434.8" cy="276.7" r="1.5"/>
<circle cx="412.9" cy="260.4" r="1.5"/>
<circle cx="498.1" cy="202.0" r="2.4"/>
<circle cx="461.1" cy="240.9" r="1.6"/>
<circle cx="491.7" cy="273.3" r="1.5"/>
<circle cx="406.9" cy="209.6" r="2.1"/>
<circle cx="423.2" cy="232.7" r="2.2"/>
<circle cx="397.1" cy="214.6" r="2.3"/>
<circle cx="494.6" cy="283.1" r="2.0"/>
<circle cx="468.5" cy="288.9" r="1.3"/>
<circle cx="404.1" cy="236.6" r="2.2"/>
<circle cx="409.7" cy="278.7" r="1.6"/>
<circle cx="503.7" cy="244.8" r="2.0"/>
<circle cx="454.8" cy="284.6" r="2.0"/>
<circle cx="390.6" cy="245.4" r="2.0"/>
<circle cx="369.2" cy="285.4" r="1.6"/>
<circle cx="499.8" cy="238.3" r="2.5"/>
<circle cx="469.2" cy="240.5" r="2.2"/>
<circle cx="358.0" cy="208.7" r="2.0"/>
<circle cx="405.4" cy="241.9" r="2.2"/>
<circle cx="430.9" cy="263.1" r="2.2"/>
<circle cx="486.7" cy="210.9" r="2.4"/>
<circle cx="472.4" cy="223.4" r="1.3"/>
<circle cx="387.7" cy="209.2" r="2.0"/>
<circle cx="511.3" cy="250.1" r="1.6"/>
<circle cx="384.2" cy="300.2" r="2.0"/>
<circle cx="394.7" cy="293.8" r="1.8"/>
<circle cx="509.6" cy="252.6" r="1.6"/>
<circle cx="386.7" cy="201.7" r="2.3"/>
<circle cx="408.5" cy="275.0" r="2.4"/>
<circle cx="420.0" cy="252.6" r="2.2"/>
<circle cx="457.0" cy="237.4" r="1.5"/>
<circle cx="401.9" cy="202.1" r="2.1"/>
<circle cx="456.7" cy="279.7" r="1.8"/>
<circle cx="470.7" cy="257.6" r="2.4"/>
<circle cx="442.8" cy="269.3" r="2.0"/>
<circle cx="389.3" cy="207.9" r="2.3"/>
<circle cx="464.6" cy="252.6" r="2.5"/>
<circle cx="386.0" cy="275.5" r="1.9"/>
<circle cx="374.2" cy="213.3" r="1.2"/>
<circle cx="387.2" cy="280.0" r="1.9"/>
<circle cx="365.3" cy="250.9" r="2.6"/>
<circle cx="479.2" cy="231.0" r="1.9"/>
<circle cx="414.5" cy="223.8" r="2.1"/>
<circle cx="361.6" cy="248.7" r="2.5"/>
<circle cx="474.5" cy="267.6" r="2.4"/>
<circle cx="504.6" cy="227.9" r="2.5"/>
<circle cx="495.6" cy="250.9" r="1.4"/>
<circle cx="440.1" cy="251.2" r="2.6"/>
<circle cx="395.8" cy="274.0" r="2.3"/>
<circle cx="450.6" cy="229.3" r="2.5"/>
<circle cx="397.3" cy="288.4" r="2.4"/>
<circle cx="439.8" cy="205.4" r="1.6"/>
</g>
<rect x="357.9" y="151" width="154.2" height="152.4" filter="url(#grainy)" opacity="0.25"/>
<rect x="352" y="151" width="22" height="95" fill="#000" opacity="0.1" filter="url(#blur3)"/>
<rect x="357.9" y="151" width="154.2" height="1.6" fill="#222" opacity="0.7"/>
<path d="M485,151 L512,151 L512,230 L470,222 L458,206 L470,192 L484,171 Z" fill="#707070" opacity="0.3" filter="url(#blur3)"/>
<path d="M371.5,151.0 C371.6,153.5 371.5,157.7 372.0,163.0 C372.5,168.3 372.8,177.8 374.3,183.0 C375.8,188.2 378.6,190.7 381.0,194.0 C383.4,197.3 386.8,200.7 389.0,203.0 C391.2,205.3 390.5,206.4 394.0,207.6 C397.5,208.8 403.2,209.3 410.0,210.0 C416.8,210.7 428.9,211.5 435.0,211.5 C441.1,211.5 442.8,211.2 446.7,209.9 C450.6,208.7 454.5,206.9 458.4,204.0 C462.3,201.1 467.3,196.1 470.0,192.4 C472.7,188.7 472.4,185.4 474.7,181.9 C477.0,178.4 482.2,176.6 484.0,171.4 C485.8,166.2 485.0,154.9 485.2,151.0 C485.4,147.1 504.1,148.5 485.2,148.0 C466.2,147.5 390.4,147.5 371.5,148.0 C352.6,148.5 371.4,148.5 371.5,151.0 Z" fill="#818181"/>
<g clip-path="url(#clipGrain)"><rect x="370" y="151" width="116" height="62" filter="url(#mott2)" opacity="0.75"/></g>
<path d="M371.5,151.0 C371.6,153.5 371.5,157.7 372.0,163.0 C372.5,168.3 372.8,177.8 374.3,183.0 C375.8,188.2 378.6,190.7 381.0,194.0 C383.4,197.3 386.8,200.7 389.0,203.0 C391.2,205.3 390.5,206.4 394.0,207.6 C397.5,208.8 403.2,209.3 410.0,210.0 C416.8,210.7 428.9,211.5 435.0,211.5 C441.1,211.5 442.8,211.2 446.7,209.9 C450.6,208.7 454.5,206.9 458.4,204.0 C462.3,201.1 467.3,196.1 470.0,192.4 C472.7,188.7 472.4,185.4 474.7,181.9 C477.0,178.4 482.2,176.6 484.0,171.4 C485.8,166.2 485.0,154.9 485.2,151.0 C485.4,147.1 504.1,148.5 485.2,148.0 C466.2,147.5 390.4,147.5 371.5,148.0 C352.6,148.5 371.4,148.5 371.5,151.0 Z" fill="none" stroke="#383838" stroke-width="1.1"/>
<path d="M371.5,156 L376,160 L382,170 L378,178 L380,190 L390,204 L386,205 L376,192 L372.5,180 L370.5,165 Z" fill="#1e1e1e" opacity="0.9" filter="url(#blur1)"/>
<path d="M484,165 L478,178 L470,188 L462,198 L455,206 L460,207 L468,198 L477,186 L486,172 Z" fill="#222" opacity="0.7" filter="url(#blur1)"/>
<circle cx="484" cy="213.4" r="5" fill="#5a5a5a" stroke="#444" stroke-width="1"/>
<ellipse cx="490.6" cy="266.5" rx="7.2" ry="13" transform="rotate(12 490.6 266.5)" fill="#4e4e4e" stroke="#2a2a2a" stroke-width="1.1"/>
<circle cx="459.5" cy="206.5" r="1.2" fill="#fff"/>
<circle cx="415" cy="221" r="1" fill="#fff"/>
<circle cx="507" cy="187" r="1" fill="#fff"/>
<circle cx="499" cy="226" r="0.8" fill="#fff"/>
<circle cx="473.6" cy="287.5" r="1.4" fill="#fff"/>
<circle cx="499.5" cy="303" r="1" fill="#fff"/>
<circle cx="383" cy="241" r="0.8" fill="#fff"/>
<circle cx="386" cy="243" r="0.7" fill="#fff"/>
</g>
<line x1="378.1" y1="225.4" x2="374.7" y2="230.4" stroke="#f21c1c" stroke-width="1.5"/><polygon points="372.8,233.3 373.2,229.4 376.2,231.4" fill="#f21c1c"/>
<line x1="430.6" y1="229.3" x2="427.2" y2="234.9" stroke="#f21c1c" stroke-width="1.5"/><polygon points="425.4,237.7 425.7,233.9 428.7,235.8" fill="#f21c1c"/>
<line x1="404.4" y1="244.6" x2="398.6" y2="244.1" stroke="#f21c1c" stroke-width="1.5"/><polygon points="395.2,243.8 398.7,242.3 398.4,245.9" fill="#f21c1c"/>
<line x1="396.5" y1="263.5" x2="390.7" y2="263.8" stroke="#f21c1c" stroke-width="1.5"/><polygon points="387.3,264.0 390.6,262.0 390.8,265.6" fill="#f21c1c"/>
<line x1="374.7" y1="276.6" x2="372.3" y2="271.1" stroke="#f21c1c" stroke-width="1.5"/><polygon points="371.0,268.0 374.0,270.4 370.7,271.8" fill="#f21c1c"/>
<line x1="401.7" y1="273.5" x2="401.3" y2="270.0" stroke="#f21c1c" stroke-width="1.5"/><polygon points="401.0,266.6 403.1,269.8 399.6,270.2" fill="#f21c1c"/>
<line x1="407.8" y1="295.5" x2="404.9" y2="291.3" stroke="#f21c1c" stroke-width="1.5"/><polygon points="403.1,288.4 406.4,290.3 403.4,292.3" fill="#f21c1c"/>
<line x1="448.3" y1="248.3" x2="447.2" y2="252.8" stroke="#f21c1c" stroke-width="1.5"/><polygon points="446.4,256.1 445.4,252.4 448.9,253.2" fill="#f21c1c"/>
<line x1="435.9" y1="263.5" x2="431.2" y2="265.0" stroke="#f21c1c" stroke-width="1.5"/><polygon points="428.0,266.1 430.7,263.3 431.8,266.7" fill="#f21c1c"/>
<line x1="455.6" y1="264.8" x2="455.2" y2="260.3" stroke="#f21c1c" stroke-width="1.5"/><polygon points="454.8,256.9 456.9,260.1 453.4,260.5" fill="#f21c1c"/>
<line x1="469.3" y1="259.5" x2="465.7" y2="262.2" stroke="#f21c1c" stroke-width="1.5"/><polygon points="463.0,264.3 464.6,260.8 466.8,263.7" fill="#f21c1c"/>
<line x1="481.9" y1="229.3" x2="481.9" y2="226.2" stroke="#f21c1c" stroke-width="1.5"/><polygon points="481.9,222.8 483.7,226.2 480.1,226.2" fill="#f21c1c"/>
<line x1="490.3" y1="243.0" x2="490.3" y2="238.5" stroke="#f21c1c" stroke-width="1.5"/><polygon points="490.3,235.1 492.1,238.5 488.5,238.5" fill="#f21c1c"/>
<line x1="465.6" y1="294.0" x2="458.4" y2="292.5" stroke="#f21c1c" stroke-width="1.5"/><polygon points="455.1,291.9 458.8,290.8 458.1,294.3" fill="#f21c1c"/>
<line x1="491.1" y1="288.7" x2="485.1" y2="290.6" stroke="#f21c1c" stroke-width="1.5"/><polygon points="481.9,291.6 484.6,288.9 485.7,292.3" fill="#f21c1c"/>
<rect x="360" y="153.3" width="15" height="7.4" fill="#fff" stroke="#777" stroke-width="0.4"/>
<text x="361.3" y="159.1" font-family="Liberation Sans" font-weight="bold" font-size="5.2" fill="#8a8a8a">BF-S</text>
<rect x="360" y="292.5" width="12" height="5" fill="#555" stroke="#888" stroke-width="0.4"/>
<rect x="373.5" y="292.5" width="10" height="5" fill="#ddd" stroke="#666" stroke-width="0.4"/>
<rect x="360" y="300" width="24" height="1" fill="#666"/>
<text x="516.6" y="160.5" font-family="Liberation Serif" font-weight="bold" font-size="13.5">e</text>
<pattern id="lat1" width="2.3" height="2.3" patternUnits="userSpaceOnUse" patternTransform="rotate(32)"><rect width="2.3" height="2.3" fill="#383838"/><circle cx="1.15" cy="1.15" r="0.66" fill="#9c9c9c"/></pattern>
<pattern id="lat2" width="2.1" height="2.1" patternUnits="userSpaceOnUse" patternTransform="rotate(-8)"><rect width="2.1" height="2.1" fill="#404040"/><circle cx="1.05" cy="1.05" r="0.6" fill="#9a9a9a"/></pattern>
<radialGradient id="edark" cx="0.5" cy="0.5" r="0.5"><stop offset="0" stop-color="#000" stop-opacity="0.45"/><stop offset="1" stop-color="#000" stop-opacity="0"/></radialGradient>
<radialGradient id="elite" cx="0.5" cy="0.5" r="0.5"><stop offset="0" stop-color="#fff" stop-opacity="0.16"/><stop offset="1" stop-color="#fff" stop-opacity="0"/></radialGradient>
<g clip-path="url(#clipE)">
<rect x="528.6" y="151" width="154.3" height="153.2" fill="url(#lat2)"/>
<path d="M585.0,168.5 C591.8,168.8 597.4,170.8 602.0,172.5 C606.6,174.2 608.6,176.7 612.4,179.0 C616.2,181.3 620.3,182.8 624.8,186.2 C629.3,189.6 635.3,194.0 639.5,199.6 C643.7,205.2 646.2,212.8 650.0,219.7 C653.8,226.6 658.2,234.9 662.0,241.3 C665.8,247.7 671.4,253.4 673.0,258.2 C674.6,263.0 673.9,265.0 671.7,270.2 C669.5,275.4 664.9,285.3 659.7,289.5 C654.5,293.7 647.6,295.5 640.4,295.5 C633.2,295.5 624.3,292.1 616.3,289.5 C608.3,286.9 599.1,283.9 592.3,279.9 C585.5,275.9 581.0,270.2 575.4,265.4 C569.8,260.6 563.7,256.6 558.5,251.0 C553.3,245.4 547.3,237.7 544.1,231.7 C540.9,225.7 539.6,220.6 539.3,214.8 C539.0,209.0 540.5,202.8 542.5,197.0 C544.5,191.2 548.4,184.4 551.5,180.0 C554.6,175.6 555.4,172.4 561.0,170.5 C566.6,168.6 578.2,168.2 585.0,168.5 Z" fill="url(#lat1)"/>
<ellipse cx="628" cy="262" rx="40" ry="32" fill="url(#edark)"/>
<ellipse cx="590" cy="195" rx="45" ry="32" fill="url(#elite)"/>
<ellipse cx="660" cy="175" rx="30" ry="25" fill="url(#elite)"/>
<path d="M585.0,168.5 C591.8,168.8 597.4,170.8 602.0,172.5 C606.6,174.2 608.6,176.7 612.4,179.0 C616.2,181.3 620.3,182.8 624.8,186.2 C629.3,189.6 635.3,194.0 639.5,199.6 C643.7,205.2 646.2,212.8 650.0,219.7 C653.8,226.6 658.2,234.9 662.0,241.3 C665.8,247.7 671.4,253.4 673.0,258.2 C674.6,263.0 673.9,265.0 671.7,270.2 C669.5,275.4 664.9,285.3 659.7,289.5 C654.5,293.7 647.6,295.5 640.4,295.5 C633.2,295.5 624.3,292.1 616.3,289.5 C608.3,286.9 599.1,283.9 592.3,279.9 C585.5,275.9 581.0,270.2 575.4,265.4 C569.8,260.6 563.7,256.6 558.5,251.0 C553.3,245.4 547.3,237.7 544.1,231.7 C540.9,225.7 539.6,220.6 539.3,214.8 C539.0,209.0 540.5,202.8 542.5,197.0 C544.5,191.2 548.4,184.4 551.5,180.0 C554.6,175.6 555.4,172.4 561.0,170.5 C566.6,168.6 578.2,168.2 585.0,168.5 Z" fill="none" stroke="#c8302a" stroke-width="1.2" stroke-dasharray="0.1 3.2" stroke-linecap="round"/>
</g>
<text x="611.2" y="163.6" font-family="Liberation Serif" font-weight="bold" font-size="8.7" fill="#f6f6f6">2.68 Å</text>
<text x="611.2" y="174.6" font-family="Liberation Serif" font-weight="bold" font-size="8.7" fill="#f6f6f6">(11-2)</text>
<text x="637.6" y="182.2" font-family="Liberation Serif" font-size="9" fill="#f6f6f6"><tspan font-style="italic">β</tspan>-Ag<tspan font-size="5.5" dy="1.5">2</tspan><tspan dy="-1.5">Se</tspan></text>
<text x="641" y="192.8" font-family="Liberation Serif" font-size="9" fill="#f6f6f6">matrix</text>
<text x="562.6" y="204.9" font-family="Liberation Serif" font-weight="bold" font-size="8.7" fill="#f6f6f6">2.25 Å</text>
<text x="562.3" y="215.9" font-family="Liberation Serif" font-weight="bold" font-size="8.7" fill="#f6f6f6">(0-3-1)</text>
<text x="551.8" y="229.3" font-family="Liberation Serif" font-weight="bold" font-size="8.8" fill="#e02222" textLength="92.5">Ag-rich&#160; nanoprecipitate</text>
<text x="534.4" y="277.9" font-family="Liberation Serif" font-weight="bold" font-size="8.7" fill="#f6f6f6">2.01 Å</text>
<text x="534.2" y="288.6" font-family="Liberation Serif" font-weight="bold" font-size="8.7" fill="#f6f6f6">(03-2)</text>
<text x="572.8" y="288.6" font-family="Liberation Serif" font-weight="bold" font-size="8.7" fill="#f6f6f6">2.68 Å</text>
<text x="572.6" y="299.6" font-family="Liberation Serif" font-weight="bold" font-size="8.7" fill="#f6f6f6">(11-2)</text>
<g stroke="#f6f6f6" stroke-width="0.7">
<line x1="609.6" y1="167" x2="609.6" y2="206.4"/><line x1="611.2" y1="167" x2="611.2" y2="206.4"/>
<line x1="588.6" y1="202.6" x2="622.7" y2="194.2"/><line x1="588.6" y1="204.2" x2="622.7" y2="195.8"/>
<line x1="568.6" y1="266.6" x2="568.6" y2="285"/><line x1="570.2" y1="266.6" x2="570.2" y2="285"/>
<line x1="558.5" y1="282.3" x2="576.6" y2="268.3"/><line x1="559.3" y1="283.5" x2="577.4" y2="269.5"/>
</g>
<text x="8" y="319" font-family="Liberation Serif" font-weight="bold" font-size="13.5">f</text>
<path d="M92.06,268.63 L92.87,273.14 L93.69,277.59 L94.50,281.96 L95.32,286.26 L96.13,290.49 L96.95,294.65 L97.76,298.74 L98.58,302.76 L99.39,306.72 L100.21,310.61 L101.02,314.44 L101.84,318.21 L102.65,321.91 L103.47,325.56 L104.28,329.14 L105.10,332.67 L105.91,336.13 L106.72,339.54 L107.54,342.90 L108.35,346.20 L109.17,349.44 L109.98,352.63 L110.80,355.77 L111.61,358.86 L112.43,361.90 L113.24,364.88 L114.06,367.82 L114.87,370.71 L115.69,373.55 L116.50,376.35 L117.32,379.10 L118.13,381.80 L118.95,384.46 L119.76,387.08 L120.57,389.65 L121.39,392.18 L122.20,394.67 L123.02,397.12 L123.83,399.53 L124.65,401.90 L125.46,404.23 L126.28,406.52 L127.09,408.78 L127.91,410.99 L128.72,413.17 L129.54,415.32 L130.35,417.43 L131.17,419.50 L131.98,421.55 L132.79,423.55 L133.61,425.53 L134.42,427.47 L135.24,429.38 L136.05,431.26 L136.87,433.11 L137.68,434.92 L138.50,436.71 L139.31,438.47 L140.13,440.20 L140.94,441.90 L141.76,443.57 L142.57,445.22 L143.39,446.84 L144.20,448.43 L145.02,450.00 L145.83,451.54 L146.64,453.05 L147.46,454.54 L148.27,456.01 L149.09,457.45 L149.90,458.87 L150.72,460.26 L151.53,461.63 L152.35,462.98 L153.16,464.31 L153.98,465.62 L154.79,466.90 L155.61,468.16 L156.42,469.40 L157.24,470.63 L158.05,471.83 L158.87,473.01 L159.68,474.17 L160.49,475.32 L161.31,476.44 L162.12,477.55 L162.94,478.63 L163.75,479.70 L164.57,480.76 L165.38,481.79 L166.20,482.81 L167.01,483.81 L167.83,484.80 L168.64,485.77 L169.46,486.72 L170.27,487.66 L171.09,488.58 L171.90,489.48 L172.72,490.38 L173.53,491.25 L174.34,492.12 L175.16,492.97 L175.97,493.80 L176.79,494.62 L177.60,495.43 L178.42,496.22 L179.23,497.00 L180.05,497.77 L180.86,498.53 L181.68,499.27 L182.49,500.00 L183.31,500.72 L184.12,501.43 L184.94,502.13 L185.75,502.81 L186.57,503.48 L187.38,504.14 L188.19,504.80 L189.01,505.44 L189.82,506.07 L190.64,506.69 L191.45,507.30 L192.27,507.89 L193.08,508.48 L193.90,509.06 L194.71,509.63 L195.53,510.20 L196.34,510.75 L197.16,511.29 L197.97,511.82 L198.79,512.35 L199.60,512.87 L200.41,513.37 L201.23,513.87 L202.04,514.36 L202.86,514.85 L203.67,515.32 L204.49,515.79 L205.30,516.25 L206.12,516.70 L206.93,517.15 L207.75,517.59 L208.56,518.02 L209.38,518.44 L210.19,518.86 L211.01,519.27 L211.82,519.67 L212.64,520.06 L213.45,520.45 L214.26,520.84 L215.08,521.21 L215.89,521.59 L216.71,521.95 L217.52,522.31 L218.34,522.66 L219.15,523.01 L219.97,523.35 L220.78,523.69 L221.60,524.02 L222.41,524.34 L223.23,524.66 L224.04,524.98 L224.86,525.28 L225.67,525.59 L226.49,525.89 L227.30,526.18 L228.11,526.47 L228.93,526.76 L229.74,527.04 L230.56,527.31 L231.37,527.58 L232.19,527.85 L233.00,528.11 L233.82,528.37 L234.63,528.62 L235.45,528.87 L236.26,529.12 L237.08,529.36 L237.89,529.59 L238.71,529.83 L239.52,530.06 L240.34,530.28 L241.15,530.50 L241.96,530.72 L242.78,530.94 L243.59,531.15 L244.41,531.36 L245.22,531.56 L246.04,531.76 L246.85,531.96 L247.67,532.15 L248.48,532.34 L249.30,532.53 L250.11,532.72 L250.93,532.90 L251.74,533.08 L252.56,533.25 L253.37,533.43 L254.19,533.60 L255.00,533.77 L255.81,533.93 L256.63,534.09 L257.44,534.25 L258.26,534.41 L259.07,534.56 L259.89,534.71 L260.70,534.86 L261.52,535.01 L262.33,535.16 L263.15,535.30 L263.96,535.44 L264.78,535.57 L265.59,535.71 L266.41,535.84 L267.22,535.97 L268.03,536.10 L268.85,536.23 L269.66,536.35 L270.48,536.47 L271.29,536.59 L272.11,536.71 L272.92,536.83 L273.74,536.94 L274.55,537.06 L275.37,537.17 L276.18,537.28 L277.00,537.38 L277.81,537.49 L278.63,537.59 L279.44,537.69 L280.26,537.79 L281.07,537.89 L281.88,537.99 L282.70,538.09 L283.51,538.18 L284.33,538.27 L285.14,538.36 L285.96,538.45 L286.77,538.54 L287.59,538.63 L288.40,538.71 L289.22,538.79 L290.03,538.88 L290.85,538.96 L291.66,539.04 L292.48,539.11 L293.29,539.19 L294.11,539.27 L294.92,539.34 L295.73,539.42 L296.55,539.49 L297.36,539.56 L298.18,539.63 L298.99,539.70 L299.81,539.76 L300.62,539.83 L301.44,539.90 L302.25,539.96 L303.07,540.02 L303.88,540.08 L304.70,540.15 L305.51,540.21 L306.33,540.26 L307.14,540.32 L307.96,540.38 L308.77,540.44 L309.58,540.49 L310.40,540.55 L311.21,540.60 L312.03,540.65 L312.84,540.70 L313.66,540.75 L314.47,540.80 L315.29,540.85 L316.10,540.90 L316.92,540.95 L317.73,541.00 L318.55,541.04 L319.36,541.09 L320.18,541.13 L320.99,541.18 L321.81,541.22 L322.62,541.26 L323.43,541.30 L324.25,541.34 L325.06,541.38 L325.88,541.42 L326.69,541.46 L327.51,541.50 L328.32,541.54 L329.14,541.58 L329.95,541.61 L330.77,541.65 L331.58,541.68 L332.40,541.72 L333.21,541.75 L334.03,541.79 L334.84,541.82 L335.66,541.85" fill="none" stroke="#f2802e" stroke-width="1.45" stroke-dasharray="3.6 2.2" clip-path="url(#clipF)"/>
<path d="M92.06,-6.55 L92.87,2.49 L93.69,11.38 L94.50,20.12 L95.32,28.72 L96.13,37.18 L96.95,45.50 L97.76,53.68 L98.58,61.73 L99.39,69.64 L100.21,77.43 L101.02,85.09 L101.84,92.62 L102.65,100.03 L103.47,107.32 L104.28,114.48 L105.10,121.53 L105.91,128.47 L106.72,135.29 L107.54,141.99 L108.35,148.59 L109.17,155.08 L109.98,161.47 L110.80,167.74 L111.61,173.92 L112.43,179.99 L113.24,185.97 L114.06,191.84 L114.87,197.62 L115.69,203.31 L116.50,208.90 L117.32,214.40 L118.13,219.81 L118.95,225.13 L119.76,230.36 L120.57,235.51 L121.39,240.57 L122.20,245.55 L123.02,250.45 L123.83,255.26 L124.65,260.00 L125.46,264.66 L126.28,269.24 L127.09,273.75 L127.91,278.19 L128.72,282.55 L129.54,286.84 L130.35,291.06 L131.17,295.21 L131.98,299.29 L132.79,303.31 L133.61,307.25 L134.42,311.14 L135.24,314.96 L136.05,318.72 L136.87,322.41 L137.68,326.05 L138.50,329.62 L139.31,333.14 L140.13,336.60 L140.94,340.00 L141.76,343.35 L142.57,346.64 L143.39,349.88 L144.20,353.06 L145.02,356.19 L145.83,359.27 L146.64,362.30 L147.46,365.29 L148.27,368.22 L149.09,371.10 L149.90,373.94 L150.72,376.72 L151.53,379.47 L152.35,382.17 L153.16,384.82 L153.98,387.43 L154.79,390.00 L155.61,392.52 L156.42,395.01 L157.24,397.45 L158.05,399.86 L158.87,402.22 L159.68,404.54 L160.49,406.83 L161.31,409.08 L162.12,411.29 L162.94,413.47 L163.75,415.61 L164.57,417.71 L165.38,419.78 L166.20,421.82 L167.01,423.82 L167.83,425.79 L168.64,427.73 L169.46,429.64 L170.27,431.51 L171.09,433.36 L171.90,435.17 L172.72,436.95 L173.53,438.71 L174.34,440.43 L175.16,442.13 L175.97,443.80 L176.79,445.44 L177.60,447.06 L178.42,448.65 L179.23,450.21 L180.05,451.74 L180.86,453.26 L181.68,454.74 L182.49,456.21 L183.31,457.64 L184.12,459.06 L184.94,460.45 L185.75,461.82 L186.57,463.16 L187.38,464.49 L188.19,465.79 L189.01,467.07 L189.82,468.33 L190.64,469.57 L191.45,470.79 L192.27,471.99 L193.08,473.17 L193.90,474.33 L194.71,475.47 L195.53,476.59 L196.34,477.69 L197.16,478.78 L197.97,479.85 L198.79,480.90 L199.60,481.93 L200.41,482.95 L201.23,483.95 L202.04,484.93 L202.86,485.90 L203.67,486.85 L204.49,487.78 L205.30,488.70 L206.12,489.61 L206.93,490.50 L207.75,491.37 L208.56,492.23 L209.38,493.08 L210.19,493.91 L211.01,494.73 L211.82,495.54 L212.64,496.33 L213.45,497.11 L214.26,497.88 L215.08,498.63 L215.89,499.37 L216.71,500.10 L217.52,500.82 L218.34,501.52 L219.15,502.22 L219.97,502.90 L220.78,503.57 L221.60,504.23 L222.41,504.88 L223.23,505.52 L224.04,506.15 L224.86,506.77 L225.67,507.38 L226.49,507.98 L227.30,508.56 L228.11,509.14 L228.93,509.71 L229.74,510.27 L230.56,510.82 L231.37,511.36 L232.19,511.90 L233.00,512.42 L233.82,512.93 L234.63,513.44 L235.45,513.94 L236.26,514.43 L237.08,514.91 L237.89,515.39 L238.71,515.85 L239.52,516.31 L240.34,516.76 L241.15,517.21 L241.96,517.64 L242.78,518.07 L243.59,518.50 L244.41,518.91 L245.22,519.32 L246.04,519.72 L246.85,520.12 L247.67,520.51 L248.48,520.89 L249.30,521.27 L250.11,521.64 L250.93,522.00 L251.74,522.36 L252.56,522.71 L253.37,523.06 L254.19,523.40 L255.00,523.73 L255.81,524.06 L256.63,524.39 L257.44,524.70 L258.26,525.02 L259.07,525.33 L259.89,525.63 L260.70,525.93 L261.52,526.22 L262.33,526.51 L263.15,526.79 L263.96,527.07 L264.78,527.35 L265.59,527.62 L266.41,527.88 L267.22,528.15 L268.03,528.40 L268.85,528.65 L269.66,528.90 L270.48,529.15 L271.29,529.39 L272.11,529.63 L272.92,529.86 L273.74,530.09 L274.55,530.31 L275.37,530.53 L276.18,530.75 L277.00,530.97 L277.81,531.18 L278.63,531.38 L279.44,531.59 L280.26,531.79 L281.07,531.99 L281.88,532.18 L282.70,532.37 L283.51,532.56 L284.33,532.74 L285.14,532.92 L285.96,533.10 L286.77,533.28 L287.59,533.45 L288.40,533.62 L289.22,533.79 L290.03,533.95 L290.85,534.11 L291.66,534.27 L292.48,534.43 L293.29,534.58 L294.11,534.74 L294.92,534.88 L295.73,535.03 L296.55,535.17 L297.36,535.32 L298.18,535.46 L298.99,535.59 L299.81,535.73 L300.62,535.86 L301.44,535.99 L302.25,536.12 L303.07,536.24 L303.88,536.37 L304.70,536.49 L305.51,536.61 L306.33,536.73 L307.14,536.84 L307.96,536.96 L308.77,537.07 L309.58,537.18 L310.40,537.29 L311.21,537.40 L312.03,537.50 L312.84,537.61 L313.66,537.71 L314.47,537.81 L315.29,537.91 L316.10,538.00 L316.92,538.10 L317.73,538.19 L318.55,538.28 L319.36,538.37 L320.18,538.46 L320.99,538.55 L321.81,538.64 L322.62,538.72 L323.43,538.81 L324.25,538.89 L325.06,538.97 L325.88,539.05 L326.69,539.13 L327.51,539.20 L328.32,539.28 L329.14,539.35 L329.95,539.43 L330.77,539.50 L331.58,539.57 L332.40,539.64 L333.21,539.71 L334.03,539.77 L334.84,539.84 L335.66,539.90" fill="none" stroke="#111111" stroke-width="1.45" stroke-dasharray="3.6 2.2" clip-path="url(#clipF)"/>
<path d="M92.06,-281.72 L92.87,-268.17 L93.69,-254.83 L94.50,-241.72 L95.32,-228.82 L96.13,-216.13 L96.95,-203.65 L97.76,-191.38 L98.58,-179.31 L99.39,-167.43 L100.21,-155.76 L101.02,-144.27 L101.84,-132.97 L102.65,-121.86 L103.47,-110.93 L104.28,-100.18 L105.10,-89.60 L105.91,-79.20 L106.72,-68.97 L107.54,-58.91 L108.35,-49.01 L109.17,-39.28 L109.98,-29.70 L110.80,-20.28 L111.61,-11.02 L112.43,-1.91 L113.24,7.05 L114.06,15.86 L114.87,24.53 L115.69,33.06 L116.50,41.45 L117.32,49.70 L118.13,57.81 L118.95,65.79 L119.76,73.64 L120.57,81.36 L121.39,88.95 L122.20,96.42 L123.02,103.77 L123.83,110.99 L124.65,118.10 L125.46,125.09 L126.28,131.97 L127.09,138.73 L127.91,145.38 L128.72,151.92 L129.54,158.36 L130.35,164.69 L131.17,170.91 L131.98,177.04 L132.79,183.06 L133.61,188.98 L134.42,194.81 L135.24,200.54 L136.05,206.18 L136.87,211.72 L137.68,217.17 L138.50,222.54 L139.31,227.81 L140.13,233.00 L140.94,238.10 L141.76,243.12 L142.57,248.06 L143.39,252.92 L144.20,257.69 L145.02,262.39 L145.83,267.01 L146.64,271.56 L147.46,276.03 L148.27,280.42 L149.09,284.75 L149.90,289.00 L150.72,293.19 L151.53,297.30 L152.35,301.35 L153.16,305.33 L153.98,309.25 L154.79,313.10 L155.61,316.89 L156.42,320.61 L157.24,324.28 L158.05,327.88 L158.87,331.43 L159.68,334.92 L160.49,338.35 L161.31,341.72 L162.12,345.04 L162.94,348.30 L163.75,351.51 L164.57,354.67 L165.38,357.77 L166.20,360.83 L167.01,363.83 L167.83,366.79 L168.64,369.70 L169.46,372.55 L170.27,375.37 L171.09,378.13 L171.90,380.85 L172.72,383.53 L173.53,386.16 L174.34,388.75 L175.16,391.30 L175.97,393.80 L176.79,396.26 L177.60,398.69 L178.42,401.07 L179.23,403.41 L180.05,405.72 L180.86,407.98 L181.68,410.21 L182.49,412.41 L183.31,414.57 L184.12,416.69 L184.94,418.78 L185.75,420.83 L186.57,422.85 L187.38,424.83 L188.19,426.79 L189.01,428.71 L189.82,430.60 L190.64,432.46 L191.45,434.29 L192.27,436.08 L193.08,437.85 L193.90,439.59 L194.71,441.30 L195.53,442.99 L196.34,444.64 L197.16,446.27 L197.97,447.87 L198.79,449.45 L199.60,451.00 L200.41,452.52 L201.23,454.02 L202.04,455.49 L202.86,456.94 L203.67,458.37 L204.49,459.77 L205.30,461.15 L206.12,462.51 L206.93,463.84 L207.75,465.16 L208.56,466.45 L209.38,467.72 L210.19,468.97 L211.01,470.20 L211.82,471.41 L212.64,472.59 L213.45,473.76 L214.26,474.91 L215.08,476.04 L215.89,477.16 L216.71,478.25 L217.52,479.33 L218.34,480.39 L219.15,481.43 L219.97,482.45 L220.78,483.46 L221.60,484.45 L222.41,485.42 L223.23,486.38 L224.04,487.33 L224.86,488.25 L225.67,489.17 L226.49,490.06 L227.30,490.95 L228.11,491.81 L228.93,492.67 L229.74,493.51 L230.56,494.33 L231.37,495.14 L232.19,495.94 L233.00,496.73 L233.82,497.50 L234.63,498.26 L235.45,499.01 L236.26,499.75 L237.08,500.47 L237.89,501.18 L238.71,501.88 L239.52,502.57 L240.34,503.25 L241.15,503.91 L241.96,504.57 L242.78,505.21 L243.59,505.84 L244.41,506.47 L245.22,507.08 L246.04,507.68 L246.85,508.28 L247.67,508.86 L248.48,509.43 L249.30,510.00 L250.11,510.55 L250.93,511.10 L251.74,511.64 L252.56,512.16 L253.37,512.68 L254.19,513.20 L255.00,513.70 L255.81,514.19 L256.63,514.68 L257.44,515.16 L258.26,515.63 L259.07,516.09 L259.89,516.54 L260.70,516.99 L261.52,517.43 L262.33,517.87 L263.15,518.29 L263.96,518.71 L264.78,519.12 L265.59,519.53 L266.41,519.93 L267.22,520.32 L268.03,520.70 L268.85,521.08 L269.66,521.46 L270.48,521.82 L271.29,522.18 L272.11,522.54 L272.92,522.89 L273.74,523.23 L274.55,523.57 L275.37,523.90 L276.18,524.23 L277.00,524.55 L277.81,524.87 L278.63,525.18 L279.44,525.48 L280.26,525.78 L281.07,526.08 L281.88,526.37 L282.70,526.66 L283.51,526.94 L284.33,527.21 L285.14,527.49 L285.96,527.75 L286.77,528.02 L287.59,528.28 L288.40,528.53 L289.22,528.78 L290.03,529.03 L290.85,529.27 L291.66,529.51 L292.48,529.74 L293.29,529.98 L294.11,530.20 L294.92,530.43 L295.73,530.65 L296.55,530.86 L297.36,531.07 L298.18,531.28 L298.99,531.49 L299.81,531.69 L300.62,531.89 L301.44,532.09 L302.25,532.28 L303.07,532.47 L303.88,532.65 L304.70,532.84 L305.51,533.02 L306.33,533.19 L307.14,533.37 L307.96,533.54 L308.77,533.71 L309.58,533.87 L310.40,534.04 L311.21,534.20 L312.03,534.35 L312.84,534.51 L313.66,534.66 L314.47,534.81 L315.29,534.96 L316.10,535.10 L316.92,535.25 L317.73,535.39 L318.55,535.53 L319.36,535.66 L320.18,535.80 L320.99,535.93 L321.81,536.06 L322.62,536.18 L323.43,536.31 L324.25,536.43 L325.06,536.55 L325.88,536.67 L326.69,536.79 L327.51,536.90 L328.32,537.02 L329.14,537.13 L329.95,537.24 L330.77,537.35 L331.58,537.45 L332.40,537.56 L333.21,537.66 L334.03,537.76 L334.84,537.86 L335.66,537.96" fill="none" stroke="#3f74e6" stroke-width="1.45" stroke-dasharray="3.6 2.2" clip-path="url(#clipF)"/>
<path d="M92.06,-556.90 L92.87,-538.82 L93.69,-521.04 L94.50,-503.56 L95.32,-486.36 L96.13,-469.44 L96.95,-452.81 L97.76,-436.44 L98.58,-420.35 L99.39,-404.51 L100.21,-388.94 L101.02,-373.62 L101.84,-358.56 L102.65,-343.74 L103.47,-329.17 L104.28,-314.83 L105.10,-300.73 L105.91,-286.87 L106.72,-273.23 L107.54,-259.81 L108.35,-246.61 L109.17,-233.64 L109.98,-220.87 L110.80,-208.31 L111.61,-195.96 L112.43,-183.81 L113.24,-171.87 L114.06,-160.12 L114.87,-148.56 L115.69,-137.19 L116.50,-126.01 L117.32,-115.01 L118.13,-104.19 L118.95,-93.55 L119.76,-83.08 L120.57,-72.79 L121.39,-62.66 L122.20,-52.70 L123.02,-42.91 L123.83,-33.28 L124.65,-23.80 L125.46,-14.48 L126.28,-5.31 L127.09,3.70 L127.91,12.57 L128.72,21.30 L129.54,29.88 L130.35,38.32 L131.17,46.62 L131.98,54.78 L132.79,62.81 L133.61,70.71 L134.42,78.48 L135.24,86.12 L136.05,93.63 L136.87,101.03 L137.68,108.30 L138.50,115.45 L139.31,122.48 L140.13,129.40 L140.94,136.20 L141.76,142.90 L142.57,149.48 L143.39,155.96 L144.20,162.32 L145.02,168.59 L145.83,174.75 L146.64,180.81 L147.46,186.77 L148.27,192.63 L149.09,198.40 L149.90,204.07 L150.72,209.65 L151.53,215.14 L152.35,220.53 L153.16,225.84 L153.98,231.06 L154.79,236.20 L155.61,241.25 L156.42,246.22 L157.24,251.10 L158.05,255.91 L158.87,260.64 L159.68,265.29 L160.49,269.86 L161.31,274.36 L162.12,278.78 L162.94,283.14 L163.75,287.42 L164.57,291.63 L165.38,295.77 L166.20,299.84 L167.01,303.85 L167.83,307.79 L168.64,311.66 L169.46,315.47 L170.27,319.22 L171.09,322.91 L171.90,326.54 L172.72,330.10 L173.53,333.61 L174.34,337.07 L175.16,340.46 L175.97,343.80 L176.79,347.08 L177.60,350.31 L178.42,353.49 L179.23,356.62 L180.05,359.69 L180.86,362.71 L181.68,365.69 L182.49,368.61 L183.31,371.49 L184.12,374.32 L184.94,377.10 L185.75,379.84 L186.57,382.53 L187.38,385.18 L188.19,387.78 L189.01,390.34 L189.82,392.86 L190.64,395.34 L191.45,397.78 L192.27,400.18 L193.08,402.54 L193.90,404.86 L194.71,407.14 L195.53,409.38 L196.34,411.59 L197.16,413.76 L197.97,415.90 L198.79,418.00 L199.60,420.06 L200.41,422.09 L201.23,424.09 L202.04,426.06 L202.86,427.99 L203.67,429.89 L204.49,431.76 L205.30,433.60 L206.12,435.41 L206.93,437.19 L207.75,438.94 L208.56,440.66 L209.38,442.36 L210.19,444.02 L211.01,445.66 L211.82,447.27 L212.64,448.86 L213.45,450.42 L214.26,451.95 L215.08,453.46 L215.89,454.94 L216.71,456.40 L217.52,457.84 L218.34,459.25 L219.15,460.64 L219.97,462.00 L220.78,463.35 L221.60,464.67 L222.41,465.97 L223.23,467.24 L224.04,468.50 L224.86,469.74 L225.67,470.95 L226.49,472.15 L227.30,473.33 L228.11,474.48 L228.93,475.62 L229.74,476.74 L230.56,477.84 L231.37,478.93 L232.19,479.99 L233.00,481.04 L233.82,482.07 L234.63,483.08 L235.45,484.08 L236.26,485.06 L237.08,486.03 L237.89,486.97 L238.71,487.91 L239.52,488.83 L240.34,489.73 L241.15,490.62 L241.96,491.49 L242.78,492.35 L243.59,493.19 L244.41,494.02 L245.22,494.84 L246.04,495.65 L246.85,496.44 L247.67,497.21 L248.48,497.98 L249.30,498.73 L250.11,499.47 L250.93,500.20 L251.74,500.92 L252.56,501.62 L253.37,502.31 L254.19,502.99 L255.00,503.66 L255.81,504.32 L256.63,504.97 L257.44,505.61 L258.26,506.24 L259.07,506.85 L259.89,507.46 L260.70,508.06 L261.52,508.64 L262.33,509.22 L263.15,509.79 L263.96,510.35 L264.78,510.90 L265.59,511.44 L266.41,511.97 L267.22,512.49 L268.03,513.00 L268.85,513.51 L269.66,514.01 L270.48,514.50 L271.29,514.98 L272.11,515.45 L272.92,515.92 L273.74,516.37 L274.55,516.82 L275.37,517.27 L276.18,517.70 L277.00,518.13 L277.81,518.55 L278.63,518.97 L279.44,519.38 L280.26,519.78 L281.07,520.17 L281.88,520.56 L282.70,520.94 L283.51,521.32 L284.33,521.69 L285.14,522.05 L285.96,522.41 L286.77,522.76 L287.59,523.10 L288.40,523.44 L289.22,523.78 L290.03,524.11 L290.85,524.43 L291.66,524.75 L292.48,525.06 L293.29,525.37 L294.11,525.67 L294.92,525.97 L295.73,526.26 L296.55,526.55 L297.36,526.83 L298.18,527.11 L298.99,527.38 L299.81,527.65 L300.62,527.92 L301.44,528.18 L302.25,528.44 L303.07,528.69 L303.88,528.94 L304.70,529.18 L305.51,529.42 L306.33,529.66 L307.14,529.89 L307.96,530.12 L308.77,530.34 L309.58,530.56 L310.40,530.78 L311.21,530.99 L312.03,531.21 L312.84,531.41 L313.66,531.62 L314.47,531.82 L315.29,532.01 L316.10,532.21 L316.92,532.40 L317.73,532.58 L318.55,532.77 L319.36,532.95 L320.18,533.13 L320.99,533.30 L321.81,533.47 L322.62,533.64 L323.43,533.81 L324.25,533.97 L325.06,534.14 L325.88,534.29 L326.69,534.45 L327.51,534.60 L328.32,534.76 L329.14,534.90 L329.95,535.05 L330.77,535.19 L331.58,535.34 L332.40,535.47 L333.21,535.61 L334.03,535.75 L334.84,535.88 L335.66,536.01" fill="none" stroke="#8a2be2" stroke-width="1.45" stroke-dasharray="3.6 2.2" clip-path="url(#clipF)"/>
<rect x="69.4" y="334.2" width="260.30" height="209.60" fill="none" stroke="#1a1a1a" stroke-width="1.4"/>
<line x1="65.2" y1="543.80" x2="69.4" y2="543.80" stroke="#1a1a1a" stroke-width="1.1"/>
<text x="62.4" y="547.9" font-family="Liberation Serif" font-size="12" text-anchor="end">0</text>
<line x1="67.0" y1="526.33" x2="69.4" y2="526.33" stroke="#1a1a1a" stroke-width="1.1"/>
<line x1="65.2" y1="508.87" x2="69.4" y2="508.87" stroke="#1a1a1a" stroke-width="1.1"/>
<text x="62.4" y="513.0" font-family="Liberation Serif" font-size="12" text-anchor="end">500</text>
<line x1="67.0" y1="491.40" x2="69.4" y2="491.40" stroke="#1a1a1a" stroke-width="1.1"/>
<line x1="65.2" y1="473.93" x2="69.4" y2="473.93" stroke="#1a1a1a" stroke-width="1.1"/>
<text x="62.4" y="478.0" font-family="Liberation Serif" font-size="12" text-anchor="end">1000</text>
<line x1="67.0" y1="456.47" x2="69.4" y2="456.47" stroke="#1a1a1a" stroke-width="1.1"/>
<line x1="65.2" y1="439.00" x2="69.4" y2="439.00" stroke="#1a1a1a" stroke-width="1.1"/>
<text x="62.4" y="443.1" font-family="Liberation Serif" font-size="12" text-anchor="end">1500</text>
<line x1="67.0" y1="421.53" x2="69.4" y2="421.53" stroke="#1a1a1a" stroke-width="1.1"/>
<line x1="65.2" y1="404.07" x2="69.4" y2="404.07" stroke="#1a1a1a" stroke-width="1.1"/>
<text x="62.4" y="408.2" font-family="Liberation Serif" font-size="12" text-anchor="end">2000</text>
<line x1="67.0" y1="386.60" x2="69.4" y2="386.60" stroke="#1a1a1a" stroke-width="1.1"/>
<line x1="65.2" y1="369.13" x2="69.4" y2="369.13" stroke="#1a1a1a" stroke-width="1.1"/>
<text x="62.4" y="373.2" font-family="Liberation Serif" font-size="12" text-anchor="end">2500</text>
<line x1="67.0" y1="351.67" x2="69.4" y2="351.67" stroke="#1a1a1a" stroke-width="1.1"/>
<line x1="65.2" y1="334.20" x2="69.4" y2="334.20" stroke="#1a1a1a" stroke-width="1.1"/>
<text x="62.4" y="338.3" font-family="Liberation Serif" font-size="12" text-anchor="end">3000</text>
<line x1="69.40" y1="543.8" x2="69.40" y2="548.0" stroke="#1a1a1a" stroke-width="1.1"/>
<text x="69.4" y="562.3" font-family="Liberation Serif" font-size="12" text-anchor="middle">10<tspan font-size="8.4" dy="-4.6">18</tspan></text>
<line x1="148.59" y1="543.8" x2="148.59" y2="548.0" stroke="#1a1a1a" stroke-width="1.1"/>
<text x="148.6" y="562.3" font-family="Liberation Serif" font-size="12" text-anchor="middle">5×10<tspan font-size="8.4" dy="-4.6">18</tspan></text>
<line x1="182.70" y1="543.8" x2="182.70" y2="548.0" stroke="#1a1a1a" stroke-width="1.1"/>
<text x="182.7" y="562.3" font-family="Liberation Serif" font-size="12" text-anchor="middle">10<tspan font-size="8.4" dy="-4.6">19</tspan></text>
<line x1="261.89" y1="543.8" x2="261.89" y2="548.0" stroke="#1a1a1a" stroke-width="1.1"/>
<text x="261.9" y="562.3" font-family="Liberation Serif" font-size="12" text-anchor="middle">5×10<tspan font-size="8.4" dy="-4.6">19</tspan></text>
<line x1="330.11" y1="543.8" x2="330.11" y2="548.0" stroke="#1a1a1a" stroke-width="1.1"/>
<text x="330.1" y="562.3" font-family="Liberation Serif" font-size="12" text-anchor="middle">2×10<tspan font-size="8.4" dy="-4.6">20</tspan></text>
<text x="199.7" y="578.6" font-family="Liberation Serif" font-size="12.4" text-anchor="middle">Carrier concentration (cm<tspan font-size="8.7" dy="-4.5">-3</tspan><tspan dy="4.5">)</tspan></text>
<text transform="translate(33.2,439.1) rotate(-90)" font-family="Liberation Serif" font-size="12.4" text-anchor="middle">Carrier mobility (cm<tspan font-size="8.7" dy="-4.5">2</tspan><tspan dy="4.5"> V</tspan><tspan font-size="8.7" dy="-4.5">-1</tspan><tspan dy="4.5"> s</tspan><tspan font-size="8.7" dy="-4.5">-1</tspan><tspan dy="4.5">)</tspan></text>
<circle cx="130.5" cy="368.3" r="4.1" fill="url(#sph)"/>
<circle cx="132.2" cy="427.1" r="4.1" fill="url(#sph)"/>
<circle cx="135.2" cy="435.1" r="4.1" fill="url(#sph)"/>
<circle cx="133.2" cy="438.5" r="4.1" fill="url(#sph)"/>
<circle cx="153.7" cy="446.1" r="4.1" fill="url(#sph)"/>
<circle cx="159.0" cy="455.0" r="4.1" fill="url(#sph)"/>
<circle cx="147.2" cy="462.6" r="4.1" fill="url(#sph)"/>
<circle cx="199.2" cy="516.1" r="4.1" fill="url(#sph)"/>
<circle cx="216.2" cy="514.2" r="4.1" fill="url(#sph)"/>
<circle cx="319.2" cy="533.6" r="4.1" fill="url(#sph)"/>
<text x="130.5" y="380.6" font-family="Liberation Serif" font-size="9.5" text-anchor="middle">6</text>
<text x="124.8" y="430.2" font-family="Liberation Serif" font-size="9.5" text-anchor="middle">4</text>
<text x="142.3" y="436.0" font-family="Liberation Serif" font-size="9.5" text-anchor="middle">8</text>
<text x="133.2" y="450.2" font-family="Liberation Serif" font-size="9.5" text-anchor="middle">9</text>
<text x="160.9" y="447.4" font-family="Liberation Serif" font-size="9.5" text-anchor="middle">7</text>
<text x="163.1" y="466.0" font-family="Liberation Serif" font-size="9.5" text-anchor="middle">3</text>
<text x="147.2" y="474.0" font-family="Liberation Serif" font-size="9.5" text-anchor="middle">10</text>
<text x="198.7" y="528.2" font-family="Liberation Serif" font-size="9.5" text-anchor="middle">5</text>
<text x="223.9" y="519.7" font-family="Liberation Serif" font-size="9.5" text-anchor="middle">2</text>
<text x="319.2" y="528.2" font-family="Liberation Serif" font-size="9.5" text-anchor="middle">1</text>
<use href="#starp" transform="translate(221.3,484.1) scale(1.0)" fill="#ee2020"/>
<line x1="202.8" y1="342.7" x2="226.7" y2="342.7" stroke="#f2802e" stroke-width="1.45" stroke-dasharray="3.6 2.2"/>
<text x="227.7" y="346.0" font-family="Liberation Serif" font-size="9.8"><tspan font-style="italic">σ</tspan> = 1000 S cm<tspan font-size="6.9" dy="-3.5">-1</tspan></text>
<line x1="202.8" y1="356.2" x2="226.7" y2="356.2" stroke="#111111" stroke-width="1.45" stroke-dasharray="3.6 2.2"/>
<text x="227.7" y="359.5" font-family="Liberation Serif" font-size="9.8"><tspan font-style="italic">σ</tspan> = 2000 S cm<tspan font-size="6.9" dy="-3.5">-1</tspan></text>
<line x1="202.8" y1="369.2" x2="226.7" y2="369.2" stroke="#3f74e6" stroke-width="1.45" stroke-dasharray="3.6 2.2"/>
<text x="227.7" y="372.5" font-family="Liberation Serif" font-size="9.8"><tspan font-style="italic">σ</tspan> = 3000 S cm<tspan font-size="6.9" dy="-3.5">-1</tspan></text>
<line x1="202.8" y1="383.5" x2="226.7" y2="383.5" stroke="#8a2be2" stroke-width="1.45" stroke-dasharray="3.6 2.2"/>
<text x="227.7" y="386.8" font-family="Liberation Serif" font-size="9.8"><tspan font-style="italic">σ</tspan> = 4000 S cm<tspan font-size="6.9" dy="-3.5">-1</tspan></text>
<circle cx="214.8" cy="395.8" r="4.1" fill="url(#sph)"/>
<text x="228.3" y="399.1" font-family="Liberation Serif" font-size="9.8">Reference</text>
<text x="204.2" y="410.7" font-family="Liberation Serif" font-size="9.8">This work:</text>
<use href="#starp" transform="translate(214.8,421.0) scale(1.0)" fill="#ee2020"/>
<text x="228.3" y="424.4" font-family="Liberation Serif" font-size="9.8">Ag<tspan font-size="6.8" dy="2.2">2.3</tspan><tspan dy="-2.2">Se-SPS200</tspan><tspan font-size="6.9" dy="-3.5">o</tspan><tspan dy="3.5">C/5min</tspan></text>
<text x="352.8" y="320.6" font-family="Liberation Serif" font-weight="bold" font-size="13.5">g</text>
<path d="M437.82,338.20 L438.79,340.90 L439.76,343.60 L440.75,346.30 L441.74,349.00 L442.74,351.70 L443.75,354.40 L444.77,357.10 L445.80,359.80 L446.84,362.50 L447.88,365.20 L448.94,367.90 L450.00,370.60 L451.07,373.30 L452.16,376.00 L453.25,378.70 L454.35,381.40 L455.46,384.10 L456.57,386.80 L457.70,389.50 L458.84,392.20 L459.98,394.90 L461.14,397.60 L462.30,400.30 L463.47,403.00 L464.65,405.70 L465.84,408.40 L467.04,411.10 L468.24,413.80 L469.46,416.50 L470.69,419.20 L471.92,421.90 L473.16,424.60 L474.42,427.30 L475.68,430.00 L476.95,432.70 L478.22,435.40 L479.51,438.10 L480.81,440.80 L482.12,443.50 L483.43,446.20 L484.75,448.90 L486.09,451.60 L487.43,454.30 L488.78,457.00 L490.14,459.70 L491.50,462.40 L492.88,465.10 L494.27,467.80 L495.66,470.50 L497.07,473.20 L498.48,475.90 L499.90,478.60 L501.33,481.30 L502.77,484.00 L504.22,486.70 L505.68,489.40 L507.15,492.10 L508.62,494.80 L510.11,497.50 L511.60,500.20 L513.10,502.90 L514.61,505.60 L516.13,508.30 L517.66,511.00 L519.20,513.70 L520.75,516.40 L522.30,519.10 L523.87,521.80 L525.44,524.50 L527.03,527.20 L528.62,529.90 L530.22,532.60 L531.83,535.30 L533.45,538.00 L535.07,540.70 L536.71,543.40 L538.36,546.10 L540.01,548.80 L541.67,551.50" fill="none" stroke="#f2802e" stroke-width="1.45" stroke-dasharray="3.6 2.2" clip-path="url(#clipG)"/>
<path d="M490.43,338.20 L491.39,340.90 L492.37,343.60 L493.35,346.30 L494.34,349.00 L495.35,351.70 L496.36,354.40 L497.38,357.10 L498.40,359.80 L499.44,362.50 L500.49,365.20 L501.54,367.90 L502.61,370.60 L503.68,373.30 L504.76,376.00 L505.85,378.70 L506.95,381.40 L508.06,384.10 L509.18,386.80 L510.31,389.50 L511.44,392.20 L512.59,394.90 L513.74,397.60 L514.90,400.30 L516.07,403.00 L517.25,405.70 L518.44,408.40 L519.64,411.10 L520.85,413.80 L522.07,416.50 L523.29,419.20 L524.53,421.90 L525.77,424.60 L527.02,427.30 L528.28,430.00 L529.55,432.70 L530.83,435.40 L532.12,438.10 L533.41,440.80 L534.72,443.50 L536.03,446.20 L537.36,448.90 L538.69,451.60 L540.03,454.30 L541.38,457.00 L542.74,459.70 L544.11,462.40 L545.49,465.10 L546.87,467.80 L548.27,470.50 L549.67,473.20 L551.09,475.90 L552.51,478.60 L553.94,481.30 L555.38,484.00 L556.83,486.70 L558.28,489.40 L559.75,492.10 L561.23,494.80 L562.71,497.50 L564.20,500.20 L565.71,502.90 L567.22,505.60 L568.74,508.30 L570.27,511.00 L571.81,513.70 L573.35,516.40 L574.91,519.10 L576.47,521.80 L578.05,524.50 L579.63,527.20 L581.22,529.90 L582.82,532.60 L584.43,535.30 L586.05,538.00 L587.68,540.70 L589.32,543.40 L590.96,546.10 L592.61,548.80 L594.28,551.50" fill="none" stroke="#111111" stroke-width="1.45" stroke-dasharray="3.6 2.2" clip-path="url(#clipG)"/>
<path d="M521.20,338.20 L522.16,340.90 L523.14,343.60 L524.12,346.30 L525.12,349.00 L526.12,351.70 L527.13,354.40 L528.15,357.10 L529.18,359.80 L530.21,362.50 L531.26,365.20 L532.31,367.90 L533.38,370.60 L534.45,373.30 L535.53,376.00 L536.62,378.70 L537.72,381.40 L538.83,384.10 L539.95,386.80 L541.08,389.50 L542.21,392.20 L543.36,394.90 L544.51,397.60 L545.67,400.30 L546.85,403.00 L548.03,405.70 L549.22,408.40 L550.41,411.10 L551.62,413.80 L552.84,416.50 L554.06,419.20 L555.30,421.90 L556.54,424.60 L557.79,427.30 L559.05,430.00 L560.32,432.70 L561.60,435.40 L562.89,438.10 L564.19,440.80 L565.49,443.50 L566.81,446.20 L568.13,448.90 L569.46,451.60 L570.80,454.30 L572.15,457.00 L573.51,459.70 L574.88,462.40 L576.26,465.10 L577.65,467.80 L579.04,470.50 L580.44,473.20 L581.86,475.90 L583.28,478.60 L584.71,481.30 L586.15,484.00 L587.60,486.70 L589.06,489.40 L590.52,492.10 L592.00,494.80 L593.48,497.50 L594.98,500.20 L596.48,502.90 L597.99,505.60 L599.51,508.30 L601.04,511.00 L602.58,513.70 L604.12,516.40 L605.68,519.10 L607.25,521.80 L608.82,524.50 L610.40,527.20 L611.99,529.90 L613.59,532.60 L615.20,535.30 L616.82,538.00 L618.45,540.70 L620.09,543.40 L621.73,546.10 L623.39,548.80 L625.05,551.50" fill="none" stroke="#2525e8" stroke-width="1.45" stroke-dasharray="3.6 2.2" clip-path="url(#clipG)"/>
<path d="M543.03,338.20 L544.00,340.90 L544.97,343.60 L545.96,346.30 L546.95,349.00 L547.95,351.70 L548.96,354.40 L549.98,357.10 L551.01,359.80 L552.05,362.50 L553.09,365.20 L554.15,367.90 L555.21,370.60 L556.28,373.30 L557.37,376.00 L558.46,378.70 L559.56,381.40 L560.67,384.10 L561.78,386.80 L562.91,389.50 L564.05,392.20 L565.19,394.90 L566.35,397.60 L567.51,400.30 L568.68,403.00 L569.86,405.70 L571.05,408.40 L572.25,411.10 L573.45,413.80 L574.67,416.50 L575.90,419.20 L577.13,421.90 L578.37,424.60 L579.63,427.30 L580.89,430.00 L582.16,432.70 L583.43,435.40 L584.72,438.10 L586.02,440.80 L587.32,443.50 L588.64,446.20 L589.96,448.90 L591.30,451.60 L592.64,454.30 L593.99,457.00 L595.35,459.70 L596.71,462.40 L598.09,465.10 L599.48,467.80 L600.87,470.50 L602.28,473.20 L603.69,475.90 L605.11,478.60 L606.54,481.30 L607.98,484.00 L609.43,486.70 L610.89,489.40 L612.36,492.10 L613.83,494.80 L615.32,497.50 L616.81,500.20 L618.31,502.90 L619.82,505.60 L621.34,508.30 L622.87,511.00 L624.41,513.70 L625.96,516.40 L627.51,519.10 L629.08,521.80 L630.65,524.50 L632.24,527.20 L633.83,529.90 L635.43,532.60 L637.04,535.30 L638.66,538.00 L640.28,540.70 L641.92,543.40 L643.57,546.10 L645.22,548.80 L646.88,551.50" fill="none" stroke="#9a2cf0" stroke-width="1.45" stroke-dasharray="3.6 2.2" clip-path="url(#clipG)"/>
<path d="M559.97,338.20 L560.93,340.90 L561.91,343.60 L562.89,346.30 L563.88,349.00 L564.89,351.70 L565.90,354.40 L566.92,357.10 L567.94,359.80 L568.98,362.50 L570.03,365.20 L571.08,367.90 L572.15,370.60 L573.22,373.30 L574.30,376.00 L575.39,378.70 L576.49,381.40 L577.60,384.10 L578.72,386.80 L579.85,389.50 L580.98,392.20 L582.13,394.90 L583.28,397.60 L584.44,400.30 L585.61,403.00 L586.79,405.70 L587.98,408.40 L589.18,411.10 L590.39,413.80 L591.61,416.50 L592.83,419.20 L594.07,421.90 L595.31,424.60 L596.56,427.30 L597.82,430.00 L599.09,432.70 L600.37,435.40 L601.66,438.10 L602.95,440.80 L604.26,443.50 L605.57,446.20 L606.90,448.90 L608.23,451.60 L609.57,454.30 L610.92,457.00 L612.28,459.70 L613.65,462.40 L615.03,465.10 L616.41,467.80 L617.81,470.50 L619.21,473.20 L620.63,475.90 L622.05,478.60 L623.48,481.30 L624.92,484.00 L626.37,486.70 L627.82,489.40 L629.29,492.10 L630.77,494.80 L632.25,497.50 L633.74,500.20 L635.25,502.90 L636.76,505.60 L638.28,508.30 L639.81,511.00 L641.35,513.70 L642.89,516.40 L644.45,519.10 L646.01,521.80 L647.59,524.50 L649.17,527.20 L650.76,529.90 L652.36,532.60 L653.97,535.30 L655.59,538.00 L657.22,540.70 L658.86,543.40 L660.50,546.10 L662.15,548.80 L663.82,551.50" fill="none" stroke="#8b1c1c" stroke-width="1.45" stroke-dasharray="3.6 2.2" clip-path="url(#clipG)"/>
<rect x="397.7" y="335.3" width="268.00" height="215.50" fill="none" stroke="#1a1a1a" stroke-width="1.4"/>
<line x1="393.5" y1="550.80" x2="397.7" y2="550.80" stroke="#1a1a1a" stroke-width="1.1"/>
<text x="391.6" y="554.9" font-family="Liberation Serif" font-size="12" text-anchor="end">-60</text>
<line x1="395.3" y1="532.84" x2="397.7" y2="532.84" stroke="#1a1a1a" stroke-width="1.1"/>
<line x1="393.5" y1="514.88" x2="397.7" y2="514.88" stroke="#1a1a1a" stroke-width="1.1"/>
<text x="391.6" y="519.0" font-family="Liberation Serif" font-size="12" text-anchor="end">-80</text>
<line x1="395.3" y1="496.92" x2="397.7" y2="496.92" stroke="#1a1a1a" stroke-width="1.1"/>
<line x1="393.5" y1="478.97" x2="397.7" y2="478.97" stroke="#1a1a1a" stroke-width="1.1"/>
<text x="391.6" y="483.1" font-family="Liberation Serif" font-size="12" text-anchor="end">-100</text>
<line x1="395.3" y1="461.01" x2="397.7" y2="461.01" stroke="#1a1a1a" stroke-width="1.1"/>
<line x1="393.5" y1="443.05" x2="397.7" y2="443.05" stroke="#1a1a1a" stroke-width="1.1"/>
<text x="391.6" y="447.1" font-family="Liberation Serif" font-size="12" text-anchor="end">-120</text>
<line x1="395.3" y1="425.09" x2="397.7" y2="425.09" stroke="#1a1a1a" stroke-width="1.1"/>
<line x1="393.5" y1="407.13" x2="397.7" y2="407.13" stroke="#1a1a1a" stroke-width="1.1"/>
<text x="391.6" y="411.2" font-family="Liberation Serif" font-size="12" text-anchor="end">-140</text>
<line x1="395.3" y1="389.18" x2="397.7" y2="389.18" stroke="#1a1a1a" stroke-width="1.1"/>
<line x1="393.5" y1="371.22" x2="397.7" y2="371.22" stroke="#1a1a1a" stroke-width="1.1"/>
<text x="391.6" y="375.3" font-family="Liberation Serif" font-size="12" text-anchor="end">-160</text>
<line x1="395.3" y1="353.26" x2="397.7" y2="353.26" stroke="#1a1a1a" stroke-width="1.1"/>
<line x1="393.5" y1="335.30" x2="397.7" y2="335.30" stroke="#1a1a1a" stroke-width="1.1"/>
<text x="391.6" y="339.4" font-family="Liberation Serif" font-size="12" text-anchor="end">-180</text>
<line x1="397.70" y1="550.8" x2="397.70" y2="555.0" stroke="#1a1a1a" stroke-width="1.1"/>
<text x="397.7" y="569.5" font-family="Liberation Serif" font-size="12" text-anchor="middle">10<tspan font-size="8.4" dy="-4.6">18</tspan></text>
<line x1="479.13" y1="550.8" x2="479.13" y2="555.0" stroke="#1a1a1a" stroke-width="1.1"/>
<text x="479.1" y="569.5" font-family="Liberation Serif" font-size="12" text-anchor="middle">5×10<tspan font-size="8.4" dy="-4.6">18</tspan></text>
<line x1="514.20" y1="550.8" x2="514.20" y2="555.0" stroke="#1a1a1a" stroke-width="1.1"/>
<text x="514.2" y="569.5" font-family="Liberation Serif" font-size="12" text-anchor="middle">10<tspan font-size="8.4" dy="-4.6">19</tspan></text>
<line x1="595.63" y1="550.8" x2="595.63" y2="555.0" stroke="#1a1a1a" stroke-width="1.1"/>
<text x="595.6" y="569.5" font-family="Liberation Serif" font-size="12" text-anchor="middle">5×10<tspan font-size="8.4" dy="-4.6">19</tspan></text>
<line x1="665.77" y1="550.8" x2="665.77" y2="555.0" stroke="#1a1a1a" stroke-width="1.1"/>
<text x="665.8" y="569.5" font-family="Liberation Serif" font-size="12" text-anchor="middle">2×10<tspan font-size="8.4" dy="-4.6">20</tspan></text>
<text x="531.4" y="582.3" font-family="Liberation Serif" font-size="12.4" text-anchor="middle">Carrier concentration (cm<tspan font-size="8.7" dy="-4.5">-3</tspan><tspan dy="4.5">)</tspan></text>
<text transform="translate(362.7,442.6) rotate(-90)" font-family="Liberation Serif" font-size="12.6" text-anchor="middle">Seebeck coefficient (μV K<tspan font-size="8.7" dy="-4.5">-1</tspan><tspan dy="4.5">)</tspan></text>
<circle cx="461.0" cy="389.0" r="4.1" fill="url(#sph)"/>
<circle cx="464.1" cy="388.0" r="4.1" fill="url(#sph)"/>
<circle cx="466.0" cy="392.9" r="4.1" fill="url(#sph)"/>
<circle cx="484.6" cy="383.9" r="4.1" fill="url(#sph)"/>
<circle cx="478.0" cy="401.7" r="4.1" fill="url(#sph)"/>
<circle cx="490.3" cy="410.9" r="4.1" fill="url(#sph)"/>
<circle cx="462.5" cy="416.0" r="4.1" fill="url(#sph)"/>
<circle cx="531.1" cy="416.0" r="4.1" fill="url(#sph)"/>
<circle cx="549.3" cy="440.5" r="4.1" fill="url(#sph)"/>
<circle cx="654.3" cy="537.4" r="4.1" fill="url(#sph)"/>
<text x="454.3" y="397.5" font-family="Liberation Serif" font-size="9.5" text-anchor="middle">6</text>
<text x="467.6" y="384.0" font-family="Liberation Serif" font-size="9.5" text-anchor="middle">9</text>
<text x="472.3" y="396.3" font-family="Liberation Serif" font-size="9.5" text-anchor="middle">8</text>
<text x="491.5" y="388.7" font-family="Liberation Serif" font-size="9.5" text-anchor="middle">7</text>
<text x="472.7" y="412.6" font-family="Liberation Serif" font-size="9.5" text-anchor="middle">10</text>
<text x="491.1" y="422.9" font-family="Liberation Serif" font-size="9.5" text-anchor="middle">3</text>
<text x="462.5" y="428.2" font-family="Liberation Serif" font-size="9.5" text-anchor="middle">4</text>
<text x="534.6" y="428.6" font-family="Liberation Serif" font-size="9.5" text-anchor="middle">5</text>
<text x="542.2" y="444.9" font-family="Liberation Serif" font-size="9.5" text-anchor="middle">2</text>
<text x="656.1" y="531.2" font-family="Liberation Serif" font-size="9.5" text-anchor="middle">1</text>
<use href="#starp" transform="translate(554.9,449.7) scale(1.0)" fill="#ee2020"/>
<line x1="399.9" y1="444" x2="423" y2="444" stroke="#f2802e" stroke-width="1.45" stroke-dasharray="3.6 2.2"/>
<text x="424.8" y="447.6" font-family="Liberation Serif" font-size="9"><tspan font-style="italic">m</tspan><tspan font-size="6.3" dy="2">d</tspan><tspan dy="-2"> = 0.2 </tspan><tspan font-style="italic">m</tspan><tspan font-size="6.3" dy="2">e</tspan></text>
<line x1="399.9" y1="458.4" x2="423" y2="458.4" stroke="#111111" stroke-width="1.45" stroke-dasharray="3.6 2.2"/>
<text x="424.8" y="462.0" font-family="Liberation Serif" font-size="9"><tspan font-style="italic">m</tspan><tspan font-size="6.3" dy="2">d</tspan><tspan dy="-2"> = 0.4 </tspan><tspan font-style="italic">m</tspan><tspan font-size="6.3" dy="2">e</tspan></text>
<line x1="399.9" y1="472.8" x2="423" y2="472.8" stroke="#2525e8" stroke-width="1.45" stroke-dasharray="3.6 2.2"/>
<text x="424.8" y="476.4" font-family="Liberation Serif" font-size="9"><tspan font-style="italic">m</tspan><tspan font-size="6.3" dy="2">d</tspan><tspan dy="-2"> = 0.6 </tspan><tspan font-style="italic">m</tspan><tspan font-size="6.3" dy="2">e</tspan></text>
<line x1="399.9" y1="487.3" x2="423" y2="487.3" stroke="#9a2cf0" stroke-width="1.45" stroke-dasharray="3.6 2.2"/>
<text x="424.8" y="490.9" font-family="Liberation Serif" font-size="9"><tspan font-style="italic">m</tspan><tspan font-size="6.3" dy="2">d</tspan><tspan dy="-2"> = 0.8 </tspan><tspan font-style="italic">m</tspan><tspan font-size="6.3" dy="2">e</tspan></text>
<line x1="399.9" y1="501.8" x2="423" y2="501.8" stroke="#8b1c1c" stroke-width="1.45" stroke-dasharray="3.6 2.2"/>
<text x="424.8" y="505.4" font-family="Liberation Serif" font-size="9"><tspan font-style="italic">m</tspan><tspan font-size="6.3" dy="2">d</tspan><tspan dy="-2"> = 1.0 </tspan><tspan font-style="italic">m</tspan><tspan font-size="6.3" dy="2">e</tspan></text>
<circle cx="411.6" cy="516.2" r="4.1" fill="url(#sph)"/>
<text x="423" y="519.4" font-family="Liberation Serif" font-size="8.9">Reference</text>
<text x="401.7" y="531.6" font-family="Liberation Serif" font-size="8.9">This work:</text>
<use href="#starp" transform="translate(411.6,541.8) scale(1.0)" fill="#ee2020"/>
<text x="423" y="544.8" font-family="Liberation Serif" font-size="8.9">Ag<tspan font-size="6.2" dy="2">2.3</tspan><tspan dy="-2">Se-SPS200</tspan><tspan font-size="6.2" dy="-3.2">o</tspan><tspan dy="3.2">C/5min</tspan></text>
<text x="11.2" y="579" font-family="Liberation Serif" font-weight="bold" font-size="13.5">h</text>
<path d="M54.92,525.70 L55.89,529.40 L56.85,533.02 L57.81,536.58 L58.77,540.07 L59.74,543.49 L60.70,546.84 L61.66,550.13 L62.62,553.36 L63.58,556.52 L64.55,559.63 L65.51,562.68 L66.47,565.67 L67.43,568.61 L68.39,571.50 L69.36,574.33 L70.32,577.11 L71.28,579.84 L72.24,582.52 L73.20,585.15 L74.17,587.74 L75.13,590.28 L76.09,592.78 L77.05,595.24 L78.01,597.65 L78.98,600.02 L79.94,602.35 L80.90,604.64 L81.86,606.89 L82.82,609.11 L83.79,611.28 L84.75,613.43 L85.71,615.53 L86.67,617.60 L87.63,619.64 L88.60,621.65 L89.56,623.62 L90.52,625.56 L91.48,627.47 L92.44,629.35 L93.41,631.20 L94.37,633.02 L95.33,634.81 L96.29,636.58 L97.25,638.32 L98.22,640.03 L99.18,641.71 L100.14,643.37 L101.10,645.00 L102.06,646.61 L103.03,648.20 L103.99,649.76 L104.95,651.30 L105.91,652.81 L106.88,654.30 L107.84,655.78 L108.80,657.23 L109.76,658.65 L110.72,660.06 L111.69,661.45 L112.65,662.82 L113.61,664.17 L114.57,665.50 L115.53,666.81 L116.50,668.10 L117.46,669.37 L118.42,670.63 L119.38,671.87 L120.34,673.09 L121.31,674.30 L122.27,675.49 L123.23,676.66 L124.19,677.82 L125.15,678.96 L126.12,680.09 L127.08,681.20 L128.04,682.29 L129.00,683.37 L129.96,684.44 L130.93,685.50 L131.89,686.54 L132.85,687.56 L133.81,688.58 L134.77,689.58 L135.74,690.56 L136.70,691.54 L137.66,692.50 L138.62,693.45 L139.58,694.39 L140.55,695.32 L141.51,696.23 L142.47,697.13 L143.43,698.03 L144.39,698.91 L145.36,699.78 L146.32,700.64 L147.28,701.49 L148.24,702.33 L149.20,703.15 L150.17,703.97 L151.13,704.78 L152.09,705.58 L153.05,706.37 L154.02,707.15 L154.98,707.92 L155.94,708.69 L156.90,709.44 L157.86,710.18 L158.83,710.92 L159.79,711.65 L160.75,712.37 L161.71,713.08 L162.67,713.78 L163.64,714.47 L164.60,715.16 L165.56,715.84 L166.52,716.51 L167.48,717.17 L168.45,717.83 L169.41,718.48 L170.37,719.12 L171.33,719.75 L172.29,720.38 L173.26,721.00 L174.22,721.62 L175.18,722.22 L176.14,722.82 L177.10,723.42 L178.07,724.01 L179.03,724.59 L179.99,725.16 L180.95,725.73 L181.91,726.29 L182.88,726.85 L183.84,727.40 L184.80,727.95 L185.76,728.49 L186.72,729.02 L187.69,729.55 L188.65,730.07 L189.61,730.59 L190.57,731.10 L191.53,731.61 L192.50,732.11 L193.46,732.61 L194.42,733.10 L195.38,733.58 L196.34,734.07 L197.31,734.54 L198.27,735.01 L199.23,735.48 L200.19,735.94 L201.16,736.40 L202.12,736.86 L203.08,737.30 L204.04,737.75 L205.00,738.19 L205.97,738.63 L206.93,739.06 L207.89,739.48 L208.85,739.91 L209.81,740.33 L210.78,740.74 L211.74,741.15 L212.70,741.56 L213.66,741.96 L214.62,742.36 L215.59,742.76 L216.55,743.15 L217.51,743.54 L218.47,743.92 L219.43,744.31 L220.40,744.68 L221.36,745.06 L222.32,745.43 L223.28,745.80 L224.24,746.16 L225.21,746.52 L226.17,746.88 L227.13,747.23 L228.09,747.58 L229.05,747.93 L230.02,748.27 L230.98,748.61 L231.94,748.95 L232.90,749.29 L233.86,749.62 L234.83,749.95 L235.79,750.28 L236.75,750.60 L237.71,750.92 L238.67,751.24 L239.64,751.55 L240.60,751.87 L241.56,752.17 L242.52,752.48 L243.48,752.79 L244.45,753.09 L245.41,753.39 L246.37,753.68 L247.33,753.98 L248.30,754.27 L249.26,754.56 L250.22,754.84 L251.18,755.13 L252.14,755.41 L253.11,755.69 L254.07,755.96 L255.03,756.24 L255.99,756.51 L256.95,756.78 L257.92,757.05 L258.88,757.31 L259.84,757.58 L260.80,757.84 L261.76,758.10 L262.73,758.35 L263.69,758.61 L264.65,758.86 L265.61,759.11 L266.57,759.36 L267.54,759.61 L268.50,759.85 L269.46,760.09 L270.42,760.34 L271.38,760.57 L272.35,760.81 L273.31,761.05 L274.27,761.28 L275.23,761.51 L276.19,761.74 L277.16,761.97 L278.12,762.19 L279.08,762.42 L280.04,762.64 L281.00,762.86 L281.97,763.08 L282.93,763.30 L283.89,763.51 L284.85,763.73 L285.81,763.94 L286.78,764.15 L287.74,764.36 L288.70,764.56 L289.66,764.77 L290.62,764.97 L291.59,765.18 L292.55,765.38 L293.51,765.58 L294.47,765.78 L295.44,765.97 L296.40,766.17 L297.36,766.36 L298.32,766.55 L299.28,766.74 L300.25,766.93 L301.21,767.12 L302.17,767.31 L303.13,767.49 L304.09,767.68 L305.06,767.86 L306.02,768.04 L306.98,768.22 L307.94,768.40 L308.90,768.58 L309.87,768.75 L310.83,768.93 L311.79,769.10 L312.75,769.27 L313.71,769.44 L314.68,769.61 L315.64,769.78 L316.60,769.95 L317.56,770.12 L318.52,770.28 L319.49,770.45 L320.45,770.61 L321.41,770.77 L322.37,770.93 L323.33,771.09 L324.30,771.25 L325.26,771.40 L326.22,771.56 L327.18,771.72 L328.14,771.87 L329.11,772.02 L330.07,772.17 L331.03,772.32 L331.99,772.47 L332.95,772.62 L333.92,772.77 L334.88,772.92 L335.84,773.06 L336.80,773.21 L337.76,773.35 L338.73,773.49 L339.69,773.64 L340.65,773.78 L341.61,773.92 L342.57,774.06" fill="none" stroke="#f2802e" stroke-width="1.45" stroke-dasharray="3.6 2.2" clip-path="url(#clipH)"/>
<path d="M54.92,385.99 L55.89,391.54 L56.85,396.99 L57.81,402.32 L58.77,407.55 L59.74,412.68 L60.70,417.71 L61.66,422.65 L62.62,427.49 L63.58,432.24 L64.55,436.90 L65.51,441.47 L66.47,445.96 L67.43,450.37 L68.39,454.69 L69.36,458.94 L70.32,463.11 L71.28,467.21 L72.24,471.23 L73.20,475.18 L74.17,479.06 L75.13,482.88 L76.09,486.62 L77.05,490.30 L78.01,493.92 L78.98,497.48 L79.94,500.97 L80.90,504.41 L81.86,507.79 L82.82,511.11 L83.79,514.38 L84.75,517.59 L85.71,520.75 L86.67,523.86 L87.63,526.91 L88.60,529.92 L89.56,532.88 L90.52,535.79 L91.48,538.66 L92.44,541.48 L93.41,544.25 L94.37,546.98 L95.33,549.67 L96.29,552.32 L97.25,554.92 L98.22,557.49 L99.18,560.02 L100.14,562.50 L101.10,564.95 L102.06,567.37 L103.03,569.75 L103.99,572.09 L104.95,574.39 L105.91,576.67 L106.88,578.91 L107.84,581.11 L108.80,583.29 L109.76,585.43 L110.72,587.54 L111.69,589.63 L112.65,591.68 L113.61,593.70 L114.57,595.70 L115.53,597.66 L116.50,599.60 L117.46,601.51 L118.42,603.40 L119.38,605.26 L120.34,607.09 L121.31,608.90 L122.27,610.68 L123.23,612.44 L124.19,614.18 L125.15,615.89 L126.12,617.58 L127.08,619.24 L128.04,620.89 L129.00,622.51 L129.96,624.11 L130.93,625.69 L131.89,627.25 L132.85,628.79 L133.81,630.31 L134.77,631.81 L135.74,633.30 L136.70,634.76 L137.66,636.20 L138.62,637.63 L139.58,639.03 L140.55,640.42 L141.51,641.80 L142.47,643.15 L143.43,644.49 L144.39,645.81 L145.36,647.12 L146.32,648.41 L147.28,649.68 L148.24,650.94 L149.20,652.18 L150.17,653.41 L151.13,654.62 L152.09,655.82 L153.05,657.01 L154.02,658.18 L154.98,659.34 L155.94,660.48 L156.90,661.61 L157.86,662.73 L158.83,663.83 L159.79,664.92 L160.75,666.00 L161.71,667.06 L162.67,668.12 L163.64,669.16 L164.60,670.19 L165.56,671.21 L166.52,672.21 L167.48,673.21 L168.45,674.19 L169.41,675.17 L170.37,676.13 L171.33,677.08 L172.29,678.02 L173.26,678.95 L174.22,679.87 L175.18,680.79 L176.14,681.69 L177.10,682.58 L178.07,683.46 L179.03,684.33 L179.99,685.19 L180.95,686.05 L181.91,686.89 L182.88,687.73 L183.84,688.55 L184.80,689.37 L185.76,690.18 L186.72,690.98 L187.69,691.77 L188.65,692.56 L189.61,693.33 L190.57,694.10 L191.53,694.86 L192.50,695.61 L193.46,696.36 L194.42,697.10 L195.38,697.83 L196.34,698.55 L197.31,699.26 L198.27,699.97 L199.23,700.67 L200.19,701.37 L201.16,702.05 L202.12,702.73 L203.08,703.41 L204.04,704.07 L205.00,704.73 L205.97,705.39 L206.93,706.04 L207.89,706.68 L208.85,707.31 L209.81,707.94 L210.78,708.56 L211.74,709.18 L212.70,709.79 L213.66,710.40 L214.62,711.00 L215.59,711.59 L216.55,712.18 L217.51,712.76 L218.47,713.34 L219.43,713.91 L220.40,714.48 L221.36,715.04 L222.32,715.59 L223.28,716.14 L224.24,716.69 L225.21,717.23 L226.17,717.77 L227.13,718.30 L228.09,718.82 L229.05,719.34 L230.02,719.86 L230.98,720.37 L231.94,720.88 L232.90,721.38 L233.86,721.88 L234.83,722.37 L235.79,722.86 L236.75,723.35 L237.71,723.83 L238.67,724.31 L239.64,724.78 L240.60,725.25 L241.56,725.71 L242.52,726.17 L243.48,726.63 L244.45,727.08 L245.41,727.53 L246.37,727.97 L247.33,728.41 L248.30,728.85 L249.26,729.28 L250.22,729.71 L251.18,730.14 L252.14,730.56 L253.11,730.98 L254.07,731.40 L255.03,731.81 L255.99,732.22 L256.95,732.62 L257.92,733.02 L258.88,733.42 L259.84,733.82 L260.80,734.21 L261.76,734.60 L262.73,734.98 L263.69,735.36 L264.65,735.74 L265.61,736.12 L266.57,736.49 L267.54,736.86 L268.50,737.23 L269.46,737.59 L270.42,737.95 L271.38,738.31 L272.35,738.67 L273.31,739.02 L274.27,739.37 L275.23,739.72 L276.19,740.06 L277.16,740.40 L278.12,740.74 L279.08,741.08 L280.04,741.41 L281.00,741.74 L281.97,742.07 L282.93,742.39 L283.89,742.72 L284.85,743.04 L285.81,743.36 L286.78,743.67 L287.74,743.99 L288.70,744.30 L289.66,744.61 L290.62,744.91 L291.59,745.22 L292.55,745.52 L293.51,745.82 L294.47,746.11 L295.44,746.41 L296.40,746.70 L297.36,746.99 L298.32,747.28 L299.28,747.57 L300.25,747.85 L301.21,748.13 L302.17,748.41 L303.13,748.69 L304.09,748.97 L305.06,749.24 L306.02,749.51 L306.98,749.78 L307.94,750.05 L308.90,750.32 L309.87,750.58 L310.83,750.84 L311.79,751.10 L312.75,751.36 L313.71,751.62 L314.68,751.87 L315.64,752.12 L316.60,752.38 L317.56,752.62 L318.52,752.87 L319.49,753.12 L320.45,753.36 L321.41,753.60 L322.37,753.85 L323.33,754.08 L324.30,754.32 L325.26,754.56 L326.22,754.79 L327.18,755.02 L328.14,755.25 L329.11,755.48 L330.07,755.71 L331.03,755.94 L331.99,756.16 L332.95,756.38 L333.92,756.61 L334.88,756.83 L335.84,757.04 L336.80,757.26 L337.76,757.48 L338.73,757.69 L339.69,757.90 L340.65,758.11 L341.61,758.32 L342.57,758.53" fill="none" stroke="#111111" stroke-width="1.45" stroke-dasharray="3.6 2.2" clip-path="url(#clipH)"/>
<path d="M54.92,246.29 L55.89,253.69 L56.85,260.95 L57.81,268.06 L58.77,275.03 L59.74,281.87 L60.70,288.58 L61.66,295.16 L62.62,301.62 L63.58,307.95 L64.55,314.16 L65.51,320.26 L66.47,326.25 L67.43,332.12 L68.39,337.89 L69.36,343.55 L70.32,349.12 L71.28,354.58 L72.24,359.94 L73.20,365.21 L74.17,370.38 L75.13,375.47 L76.09,380.46 L77.05,385.37 L78.01,390.20 L78.98,394.94 L79.94,399.60 L80.90,404.18 L81.86,408.69 L82.82,413.11 L83.79,417.47 L84.75,421.75 L85.71,425.97 L86.67,430.11 L87.63,434.19 L88.60,438.19 L89.56,442.14 L90.52,446.02 L91.48,449.84 L92.44,453.60 L93.41,457.30 L94.37,460.94 L95.33,464.53 L96.29,468.06 L97.25,471.53 L98.22,474.95 L99.18,478.32 L100.14,481.64 L101.10,484.91 L102.06,488.12 L103.03,491.29 L103.99,494.42 L104.95,497.49 L105.91,500.52 L106.88,503.51 L107.84,506.45 L108.80,509.35 L109.76,512.21 L110.72,515.03 L111.69,517.80 L112.65,520.54 L113.61,523.23 L114.57,525.89 L115.53,528.52 L116.50,531.10 L117.46,533.65 L118.42,536.16 L119.38,538.64 L120.34,541.09 L121.31,543.50 L122.27,545.87 L123.23,548.22 L124.19,550.53 L125.15,552.82 L126.12,555.07 L127.08,557.29 L128.04,559.49 L129.00,561.65 L129.96,563.79 L130.93,565.89 L131.89,567.97 L132.85,570.03 L133.81,572.05 L134.77,574.05 L135.74,576.03 L136.70,577.98 L137.66,579.90 L138.62,581.80 L139.58,583.68 L140.55,585.53 L141.51,587.36 L142.47,589.17 L143.43,590.95 L144.39,592.72 L145.36,594.46 L146.32,596.18 L147.28,597.87 L148.24,599.55 L149.20,601.21 L150.17,602.85 L151.13,604.47 L152.09,606.06 L153.05,607.64 L154.02,609.20 L154.98,610.75 L155.94,612.27 L156.90,613.78 L157.86,615.27 L158.83,616.74 L159.79,618.19 L160.75,619.63 L161.71,621.05 L162.67,622.46 L163.64,623.85 L164.60,625.22 L165.56,626.58 L166.52,627.92 L167.48,629.25 L168.45,630.56 L169.41,631.86 L170.37,633.14 L171.33,634.41 L172.29,635.66 L173.26,636.90 L174.22,638.13 L175.18,639.35 L176.14,640.55 L177.10,641.74 L178.07,642.91 L179.03,644.07 L179.99,645.22 L180.95,646.36 L181.91,647.49 L182.88,648.60 L183.84,649.70 L184.80,650.79 L185.76,651.87 L186.72,652.94 L187.69,654.00 L188.65,655.04 L189.61,656.08 L190.57,657.10 L191.53,658.12 L192.50,659.12 L193.46,660.11 L194.42,661.10 L195.38,662.07 L196.34,663.03 L197.31,663.99 L198.27,664.93 L199.23,665.86 L200.19,666.79 L201.16,667.70 L202.12,668.61 L203.08,669.51 L204.04,670.40 L205.00,671.28 L205.97,672.15 L206.93,673.01 L207.89,673.87 L208.85,674.72 L209.81,675.55 L210.78,676.38 L211.74,677.21 L212.70,678.02 L213.66,678.83 L214.62,679.63 L215.59,680.42 L216.55,681.20 L217.51,681.98 L218.47,682.75 L219.43,683.51 L220.40,684.27 L221.36,685.02 L222.32,685.76 L223.28,686.49 L224.24,687.22 L225.21,687.94 L226.17,688.65 L227.13,689.36 L228.09,690.06 L229.05,690.76 L230.02,691.45 L230.98,692.13 L231.94,692.81 L232.90,693.48 L233.86,694.14 L234.83,694.80 L235.79,695.45 L236.75,696.10 L237.71,696.74 L238.67,697.38 L239.64,698.01 L240.60,698.63 L241.56,699.25 L242.52,699.86 L243.48,700.47 L244.45,701.07 L245.41,701.67 L246.37,702.27 L247.33,702.85 L248.30,703.44 L249.26,704.01 L250.22,704.59 L251.18,705.15 L252.14,705.72 L253.11,706.27 L254.07,706.83 L255.03,707.38 L255.99,707.92 L256.95,708.46 L257.92,709.00 L258.88,709.53 L259.84,710.05 L260.80,710.58 L261.76,711.09 L262.73,711.61 L263.69,712.12 L264.65,712.62 L265.61,713.12 L266.57,713.62 L267.54,714.11 L268.50,714.60 L269.46,715.09 L270.42,715.57 L271.38,716.05 L272.35,716.52 L273.31,716.99 L274.27,717.46 L275.23,717.92 L276.19,718.38 L277.16,718.83 L278.12,719.29 L279.08,719.73 L280.04,720.18 L281.00,720.62 L281.97,721.06 L282.93,721.49 L283.89,721.92 L284.85,722.35 L285.81,722.78 L286.78,723.20 L287.74,723.61 L288.70,724.03 L289.66,724.44 L290.62,724.85 L291.59,725.25 L292.55,725.66 L293.51,726.06 L294.47,726.45 L295.44,726.84 L296.40,727.24 L297.36,727.62 L298.32,728.01 L299.28,728.39 L300.25,728.77 L301.21,729.14 L302.17,729.52 L303.13,729.89 L304.09,730.26 L305.06,730.62 L306.02,730.98 L306.98,731.34 L307.94,731.70 L308.90,732.05 L309.87,732.41 L310.83,732.76 L311.79,733.10 L312.75,733.45 L313.71,733.79 L314.68,734.13 L315.64,734.47 L316.60,734.80 L317.56,735.13 L318.52,735.46 L319.49,735.79 L320.45,736.12 L321.41,736.44 L322.37,736.76 L323.33,737.08 L324.30,737.40 L325.26,737.71 L326.22,738.02 L327.18,738.33 L328.14,738.64 L329.11,738.94 L330.07,739.25 L331.03,739.55 L331.99,739.85 L332.95,740.15 L333.92,740.44 L334.88,740.73 L335.84,741.03 L336.80,741.31 L337.76,741.60 L338.73,741.89 L339.69,742.17 L340.65,742.45 L341.61,742.73 L342.57,743.01" fill="none" stroke="#2a2ae8" stroke-width="1.45" stroke-dasharray="3.6 2.2" clip-path="url(#clipH)"/>
<rect x="68" y="593.8" width="261.50" height="211.30" fill="none" stroke="#1a1a1a" stroke-width="1.4"/>
<line x1="63.8" y1="805.10" x2="68" y2="805.10" stroke="#1a1a1a" stroke-width="1.1"/>
<text x="61.2" y="809.2" font-family="Liberation Serif" font-size="12" text-anchor="end">0</text>
<line x1="65.6" y1="783.97" x2="68" y2="783.97" stroke="#1a1a1a" stroke-width="1.1"/>
<line x1="63.8" y1="762.84" x2="68" y2="762.84" stroke="#1a1a1a" stroke-width="1.1"/>
<text x="61.2" y="766.9" font-family="Liberation Serif" font-size="12" text-anchor="end">1000</text>
<line x1="65.6" y1="741.71" x2="68" y2="741.71" stroke="#1a1a1a" stroke-width="1.1"/>
<line x1="63.8" y1="720.58" x2="68" y2="720.58" stroke="#1a1a1a" stroke-width="1.1"/>
<text x="61.2" y="724.7" font-family="Liberation Serif" font-size="12" text-anchor="end">2000</text>
<line x1="65.6" y1="699.45" x2="68" y2="699.45" stroke="#1a1a1a" stroke-width="1.1"/>
<line x1="63.8" y1="678.32" x2="68" y2="678.32" stroke="#1a1a1a" stroke-width="1.1"/>
<text x="61.2" y="682.4" font-family="Liberation Serif" font-size="12" text-anchor="end">3000</text>
<line x1="65.6" y1="657.19" x2="68" y2="657.19" stroke="#1a1a1a" stroke-width="1.1"/>
<line x1="63.8" y1="636.06" x2="68" y2="636.06" stroke="#1a1a1a" stroke-width="1.1"/>
<text x="61.2" y="640.2" font-family="Liberation Serif" font-size="12" text-anchor="end">4000</text>
<line x1="65.6" y1="614.93" x2="68" y2="614.93" stroke="#1a1a1a" stroke-width="1.1"/>
<line x1="63.8" y1="593.80" x2="68" y2="593.80" stroke="#1a1a1a" stroke-width="1.1"/>
<text x="61.2" y="597.9" font-family="Liberation Serif" font-size="12" text-anchor="end">5000</text>
<line x1="68.00" y1="805.1" x2="68.00" y2="809.3000000000001" stroke="#1a1a1a" stroke-width="1.1"/>
<text x="68.0" y="820.6" font-family="Liberation Serif" font-size="12" text-anchor="middle">-60</text>
<line x1="94.15" y1="805.1" x2="94.15" y2="807.5" stroke="#1a1a1a" stroke-width="1.1"/>
<line x1="120.30" y1="805.1" x2="120.30" y2="809.3000000000001" stroke="#1a1a1a" stroke-width="1.1"/>
<text x="120.3" y="820.6" font-family="Liberation Serif" font-size="12" text-anchor="middle">-80</text>
<line x1="146.45" y1="805.1" x2="146.45" y2="807.5" stroke="#1a1a1a" stroke-width="1.1"/>
<line x1="172.60" y1="805.1" x2="172.60" y2="809.3000000000001" stroke="#1a1a1a" stroke-width="1.1"/>
<text x="172.6" y="820.6" font-family="Liberation Serif" font-size="12" text-anchor="middle">-100</text>
<line x1="198.75" y1="805.1" x2="198.75" y2="807.5" stroke="#1a1a1a" stroke-width="1.1"/>
<line x1="224.90" y1="805.1" x2="224.90" y2="809.3000000000001" stroke="#1a1a1a" stroke-width="1.1"/>
<text x="224.9" y="820.6" font-family="Liberation Serif" font-size="12" text-anchor="middle">-120</text>
<line x1="251.05" y1="805.1" x2="251.05" y2="807.5" stroke="#1a1a1a" stroke-width="1.1"/>
<line x1="277.20" y1="805.1" x2="277.20" y2="809.3000000000001" stroke="#1a1a1a" stroke-width="1.1"/>
<text x="277.2" y="820.6" font-family="Liberation Serif" font-size="12" text-anchor="middle">-140</text>
<line x1="303.35" y1="805.1" x2="303.35" y2="807.5" stroke="#1a1a1a" stroke-width="1.1"/>
<line x1="329.50" y1="805.1" x2="329.50" y2="809.3000000000001" stroke="#1a1a1a" stroke-width="1.1"/>
<text x="329.5" y="820.6" font-family="Liberation Serif" font-size="12" text-anchor="middle">-160</text>
<text x="198.3" y="840.4" font-family="Liberation Serif" font-size="12.4" text-anchor="middle">Seebeck coefficient (μV K<tspan font-size="8.7" dy="-4.5">-1</tspan><tspan dy="4.5">)</tspan></text>
<text transform="translate(31.9,698.3) rotate(-90)" font-family="Liberation Serif" font-size="12.4" text-anchor="middle">Electrical conductivity (S cm<tspan font-size="8.7" dy="-4.5">-1</tspan><tspan dy="4.5">)</tspan></text>
<circle cx="87.1" cy="637.7" r="4.1" fill="url(#sph)"/>
<circle cx="228.0" cy="734.6" r="4.1" fill="url(#sph)"/>
<circle cx="303.2" cy="744.4" r="4.1" fill="url(#sph)"/>
<circle cx="271.7" cy="745.6" r="4.1" fill="url(#sph)"/>
<circle cx="311.0" cy="750.1" r="4.1" fill="url(#sph)"/>
<circle cx="264.0" cy="758.1" r="4.1" fill="url(#sph)"/>
<circle cx="264.0" cy="763.6" r="4.1" fill="url(#sph)"/>
<circle cx="298.1" cy="764.2" r="4.1" fill="url(#sph)"/>
<circle cx="303.6" cy="766.7" r="4.1" fill="url(#sph)"/>
<circle cx="284.8" cy="770.4" r="4.1" fill="url(#sph)"/>
<text x="87.1" y="650.0" font-family="Liberation Serif" font-size="9.5" text-anchor="middle">1</text>
<text x="221.5" y="743.4" font-family="Liberation Serif" font-size="9.5" text-anchor="middle">2</text>
<text x="298.7" y="743.4" font-family="Liberation Serif" font-size="9.5" text-anchor="middle">6</text>
<text x="275.4" y="757.5" font-family="Liberation Serif" font-size="9.5" text-anchor="middle">3</text>
<text x="311.0" y="762.8" font-family="Liberation Serif" font-size="9.5" text-anchor="middle">7</text>
<text x="260.9" y="756.0" font-family="Liberation Serif" font-size="9.5" text-anchor="middle">4</text>
<text x="264.0" y="776.0" font-family="Liberation Serif" font-size="9.5" text-anchor="middle">5</text>
<text x="296.0" y="762.2" font-family="Liberation Serif" font-size="9.5" text-anchor="middle">8</text>
<text x="303.2" y="779.2" font-family="Liberation Serif" font-size="9.5" text-anchor="middle">9</text>
<text x="284.8" y="782.2" font-family="Liberation Serif" font-size="9.5" text-anchor="middle">10</text>
<use href="#starp" transform="translate(214.7,677.4) scale(1.0)" fill="#ee2020"/>
<line x1="69" y1="731.4" x2="91.5" y2="731.4" stroke="#f2802e" stroke-width="1.45" stroke-dasharray="3.6 2.2"/>
<text x="94.7" y="734.7" font-family="Liberation Serif" font-size="9.8">PF = 2000 μWm<tspan font-size="6.9" dy="-3.5">-1</tspan><tspan dy="3.5">K</tspan><tspan font-size="6.9" dy="-3.5">-2</tspan></text>
<line x1="69" y1="744.4" x2="91.5" y2="744.4" stroke="#111111" stroke-width="1.45" stroke-dasharray="3.6 2.2"/>
<text x="94.7" y="747.7" font-family="Liberation Serif" font-size="9.8">PF = 3000 μWm<tspan font-size="6.9" dy="-3.5">-1</tspan><tspan dy="3.5">K</tspan><tspan font-size="6.9" dy="-3.5">-2</tspan></text>
<line x1="69" y1="758" x2="91.5" y2="758" stroke="#2a2ae8" stroke-width="1.45" stroke-dasharray="3.6 2.2"/>
<text x="94.7" y="761.3" font-family="Liberation Serif" font-size="9.8">PF = 4000 μWm<tspan font-size="6.9" dy="-3.5">-1</tspan><tspan dy="3.5">K</tspan><tspan font-size="6.9" dy="-3.5">-2</tspan></text>
<circle cx="81.5" cy="770.6" r="4.1" fill="url(#sph)"/>
<text x="94.7" y="774" font-family="Liberation Serif" font-size="9.8">Reference</text>
<text x="69.5" y="785.2" font-family="Liberation Serif" font-size="9.8">This work:</text>
<use href="#starp" transform="translate(81.5,795.3) scale(1.0)" fill="#ee2020"/>
<text x="94.7" y="798.8" font-family="Liberation Serif" font-size="9.8">Ag<tspan font-size="6.8" dy="2.2">2.3</tspan><tspan dy="-2.2">Se-SPS200</tspan><tspan font-size="6.9" dy="-3.5">o</tspan><tspan dy="3.5">C/5min</tspan></text>
<text x="348.8" y="592.8" font-family="Liberation Serif" font-weight="bold" font-size="13.5">i</text>
<rect x="395.44" y="767.13" width="5.6" height="31.27" fill="#3a8a1e"/>
<rect x="408.14" y="736.02" width="5.3" height="62.38" fill="#f28024"/>
<line x1="404.44" y1="798.4" x2="404.44" y2="802.4" stroke="#1a1a1a" stroke-width="1.1"/>
<text transform="translate(411.8,808.4) rotate(-45)" font-family="Liberation Serif" font-size="12.4" text-anchor="end" fill="#111">Ref. 15</text>
<rect x="420.32" y="744.34" width="5.6" height="54.06" fill="#3a8a1e"/>
<rect x="433.02" y="691.12" width="5.3" height="107.28" fill="#f28024"/>
<line x1="429.32" y1="798.4" x2="429.32" y2="802.4" stroke="#1a1a1a" stroke-width="1.1"/>
<text transform="translate(436.7,808.4) rotate(-45)" font-family="Liberation Serif" font-size="12.4" text-anchor="end" fill="#111">Ref. 17</text>
<rect x="445.20" y="772.62" width="5.6" height="25.78" fill="#3a8a1e"/>
<rect x="457.90" y="746.84" width="5.3" height="51.56" fill="#f28024"/>
<line x1="454.20" y1="798.4" x2="454.20" y2="802.4" stroke="#1a1a1a" stroke-width="1.1"/>
<text transform="translate(461.6,808.4) rotate(-45)" font-family="Liberation Serif" font-size="12.4" text-anchor="end" fill="#111">Ref. 18</text>
<rect x="470.08" y="793.91" width="5.6" height="4.49" fill="#3a8a1e"/>
<rect x="482.78" y="787.59" width="5.3" height="10.81" fill="#f28024"/>
<line x1="479.08" y1="798.4" x2="479.08" y2="802.4" stroke="#1a1a1a" stroke-width="1.1"/>
<text transform="translate(486.5,808.4) rotate(-45)" font-family="Liberation Serif" font-size="12.4" text-anchor="end" fill="#111">Ref. 19</text>
<rect x="494.96" y="782.93" width="5.6" height="15.47" fill="#3a8a1e"/>
<rect x="507.66" y="778.44" width="5.3" height="19.96" fill="#f28024"/>
<line x1="503.96" y1="798.4" x2="503.96" y2="802.4" stroke="#1a1a1a" stroke-width="1.1"/>
<text transform="translate(511.4,808.4) rotate(-45)" font-family="Liberation Serif" font-size="12.4" text-anchor="end" fill="#111">Ref. 21</text>
<rect x="519.84" y="741.01" width="5.6" height="57.38" fill="#3a8a1e"/>
<rect x="532.54" y="718.23" width="5.3" height="80.17" fill="#f28024"/>
<line x1="528.84" y1="798.4" x2="528.84" y2="802.4" stroke="#1a1a1a" stroke-width="1.1"/>
<text transform="translate(536.2,808.4) rotate(-45)" font-family="Liberation Serif" font-size="12.4" text-anchor="end" fill="#111">Ref. 24</text>
<rect x="544.72" y="767.96" width="5.6" height="30.44" fill="#3a8a1e"/>
<rect x="557.42" y="738.19" width="5.3" height="60.21" fill="#f28024"/>
<line x1="553.72" y1="798.4" x2="553.72" y2="802.4" stroke="#1a1a1a" stroke-width="1.1"/>
<text transform="translate(561.1,808.4) rotate(-45)" font-family="Liberation Serif" font-size="12.4" text-anchor="end" fill="#111">Ref. 27</text>
<rect x="569.60" y="743.01" width="5.6" height="55.39" fill="#3a8a1e"/>
<rect x="582.30" y="688.12" width="5.3" height="110.28" fill="#f28024"/>
<line x1="578.60" y1="798.4" x2="578.60" y2="802.4" stroke="#1a1a1a" stroke-width="1.1"/>
<text transform="translate(586.0,808.4) rotate(-45)" font-family="Liberation Serif" font-size="12.4" text-anchor="end" fill="#111">Ref. 28</text>
<rect x="594.48" y="775.61" width="5.6" height="22.79" fill="#3a8a1e"/>
<rect x="607.18" y="753.16" width="5.3" height="45.24" fill="#f28024"/>
<line x1="603.48" y1="798.4" x2="603.48" y2="802.4" stroke="#1a1a1a" stroke-width="1.1"/>
<text transform="translate(610.9,808.4) rotate(-45)" font-family="Liberation Serif" font-size="12.4" text-anchor="end" fill="#111">Ref. 29</text>
<rect x="619.36" y="617.10" width="5.6" height="181.30" fill="#3a8a1e"/>
<rect x="632.06" y="617.10" width="5.3" height="181.30" fill="#f28024"/>
<line x1="628.36" y1="798.4" x2="628.36" y2="802.4" stroke="#1a1a1a" stroke-width="1.1"/>
<text transform="translate(632.8,808.4) rotate(-45)" font-family="Liberation Serif" font-size="12.4" text-anchor="end" fill="#f02020">This work</text>
<rect x="392" y="598.8" width="248.80" height="199.60" fill="none" stroke="#1a1a1a" stroke-width="1.4"/>
<line x1="387.8" y1="798.40" x2="392" y2="798.40" stroke="#1a1a1a" stroke-width="1.1"/>
<line x1="640.8" y1="798.40" x2="645.0" y2="798.40" stroke="#1a1a1a" stroke-width="1.1"/>
<text x="386.4" y="802.5" font-family="Liberation Serif" font-size="12" text-anchor="end">0</text>
<text x="647.2" y="802.5" font-family="Liberation Serif" font-size="12">0</text>
<line x1="389.6" y1="781.77" x2="392" y2="781.77" stroke="#1a1a1a" stroke-width="1.1"/>
<line x1="640.8" y1="781.77" x2="643.2" y2="781.77" stroke="#1a1a1a" stroke-width="1.1"/>
<line x1="387.8" y1="765.13" x2="392" y2="765.13" stroke="#1a1a1a" stroke-width="1.1"/>
<line x1="640.8" y1="765.13" x2="645.0" y2="765.13" stroke="#1a1a1a" stroke-width="1.1"/>
<text x="386.4" y="769.2" font-family="Liberation Serif" font-size="12" text-anchor="end">2</text>
<text x="647.2" y="769.2" font-family="Liberation Serif" font-size="12">2</text>
<line x1="389.6" y1="748.50" x2="392" y2="748.50" stroke="#1a1a1a" stroke-width="1.1"/>
<line x1="640.8" y1="748.50" x2="643.2" y2="748.50" stroke="#1a1a1a" stroke-width="1.1"/>
<line x1="387.8" y1="731.87" x2="392" y2="731.87" stroke="#1a1a1a" stroke-width="1.1"/>
<line x1="640.8" y1="731.87" x2="645.0" y2="731.87" stroke="#1a1a1a" stroke-width="1.1"/>
<text x="386.4" y="736.0" font-family="Liberation Serif" font-size="12" text-anchor="end">4</text>
<text x="647.2" y="736.0" font-family="Liberation Serif" font-size="12">4</text>
<line x1="389.6" y1="715.23" x2="392" y2="715.23" stroke="#1a1a1a" stroke-width="1.1"/>
<line x1="640.8" y1="715.23" x2="643.2" y2="715.23" stroke="#1a1a1a" stroke-width="1.1"/>
<line x1="387.8" y1="698.60" x2="392" y2="698.60" stroke="#1a1a1a" stroke-width="1.1"/>
<line x1="640.8" y1="698.60" x2="645.0" y2="698.60" stroke="#1a1a1a" stroke-width="1.1"/>
<text x="386.4" y="702.7" font-family="Liberation Serif" font-size="12" text-anchor="end">6</text>
<text x="647.2" y="702.7" font-family="Liberation Serif" font-size="12">6</text>
<line x1="389.6" y1="681.97" x2="392" y2="681.97" stroke="#1a1a1a" stroke-width="1.1"/>
<line x1="640.8" y1="681.97" x2="643.2" y2="681.97" stroke="#1a1a1a" stroke-width="1.1"/>
<line x1="387.8" y1="665.33" x2="392" y2="665.33" stroke="#1a1a1a" stroke-width="1.1"/>
<line x1="640.8" y1="665.33" x2="645.0" y2="665.33" stroke="#1a1a1a" stroke-width="1.1"/>
<text x="386.4" y="669.4" font-family="Liberation Serif" font-size="12" text-anchor="end">8</text>
<text x="647.2" y="669.4" font-family="Liberation Serif" font-size="12">8</text>
<line x1="389.6" y1="648.70" x2="392" y2="648.70" stroke="#1a1a1a" stroke-width="1.1"/>
<line x1="640.8" y1="648.70" x2="643.2" y2="648.70" stroke="#1a1a1a" stroke-width="1.1"/>
<line x1="387.8" y1="632.07" x2="392" y2="632.07" stroke="#1a1a1a" stroke-width="1.1"/>
<line x1="640.8" y1="632.07" x2="645.0" y2="632.07" stroke="#1a1a1a" stroke-width="1.1"/>
<text x="386.4" y="636.2" font-family="Liberation Serif" font-size="12" text-anchor="end">10</text>
<text x="647.2" y="636.2" font-family="Liberation Serif" font-size="12">10</text>
<line x1="389.6" y1="615.43" x2="392" y2="615.43" stroke="#1a1a1a" stroke-width="1.1"/>
<line x1="640.8" y1="615.43" x2="643.2" y2="615.43" stroke="#1a1a1a" stroke-width="1.1"/>
<line x1="387.8" y1="598.80" x2="392" y2="598.80" stroke="#1a1a1a" stroke-width="1.1"/>
<line x1="640.8" y1="598.80" x2="645.0" y2="598.80" stroke="#1a1a1a" stroke-width="1.1"/>
<text x="386.4" y="602.9" font-family="Liberation Serif" font-size="12" text-anchor="end">12</text>
<text x="647.2" y="602.9" font-family="Liberation Serif" font-size="12">12</text>
<text transform="translate(365,699.5) rotate(-90)" font-family="Liberation Serif" font-size="12.4" text-anchor="middle"><tspan font-style="italic">P</tspan><tspan font-size="8.2" dy="2.5">md</tspan><tspan dy="-2.5"> (μW cm</tspan><tspan font-size="8.7" dy="-4.5">-2</tspan><tspan dy="4.5"> K</tspan><tspan font-size="8.7" dy="-4.5">-2</tspan><tspan dy="4.5">)</tspan></text>
<text transform="translate(673.8,699.2) rotate(-90)" font-family="Liberation Serif" font-size="12.4" text-anchor="middle"><tspan font-style="italic">P</tspan><tspan font-size="8.2" dy="2.5">md</tspan><tspan dy="-2.5"> (μW cm</tspan><tspan font-size="8.7" dy="-4.5">-1</tspan><tspan dy="4.5"> K</tspan><tspan font-size="8.7" dy="-4.5">-2</tspan><tspan dy="4.5">)</tspan></text>
<rect x="401" y="605" width="20" height="9.7" fill="#3a8a1e"/>
<rect x="401" y="621.3" width="20" height="9.7" fill="#f28024"/>
<text x="425.8" y="613.5" font-family="Liberation Serif" font-size="9.8"><tspan font-style="italic">P</tspan><tspan font-size="6.8" dy="2">md</tspan><tspan dy="-2"> (μW cm</tspan><tspan font-size="6.9" dy="-3.5">-2</tspan><tspan dy="3.5"> K</tspan><tspan font-size="6.9" dy="-3.5">-2</tspan><tspan dy="3.5">)</tspan></text>
<text x="425.8" y="629.8" font-family="Liberation Serif" font-size="9.8"><tspan font-style="italic">P</tspan><tspan font-size="6.8" dy="2">md</tspan><tspan dy="-2"> (μW cm</tspan><tspan font-size="6.9" dy="-3.5">-1</tspan><tspan dy="3.5"> K</tspan><tspan font-size="6.9" dy="-3.5">-2</tspan><tspan dy="3.5">)</tspan></text>
</svg>
</body></html>
